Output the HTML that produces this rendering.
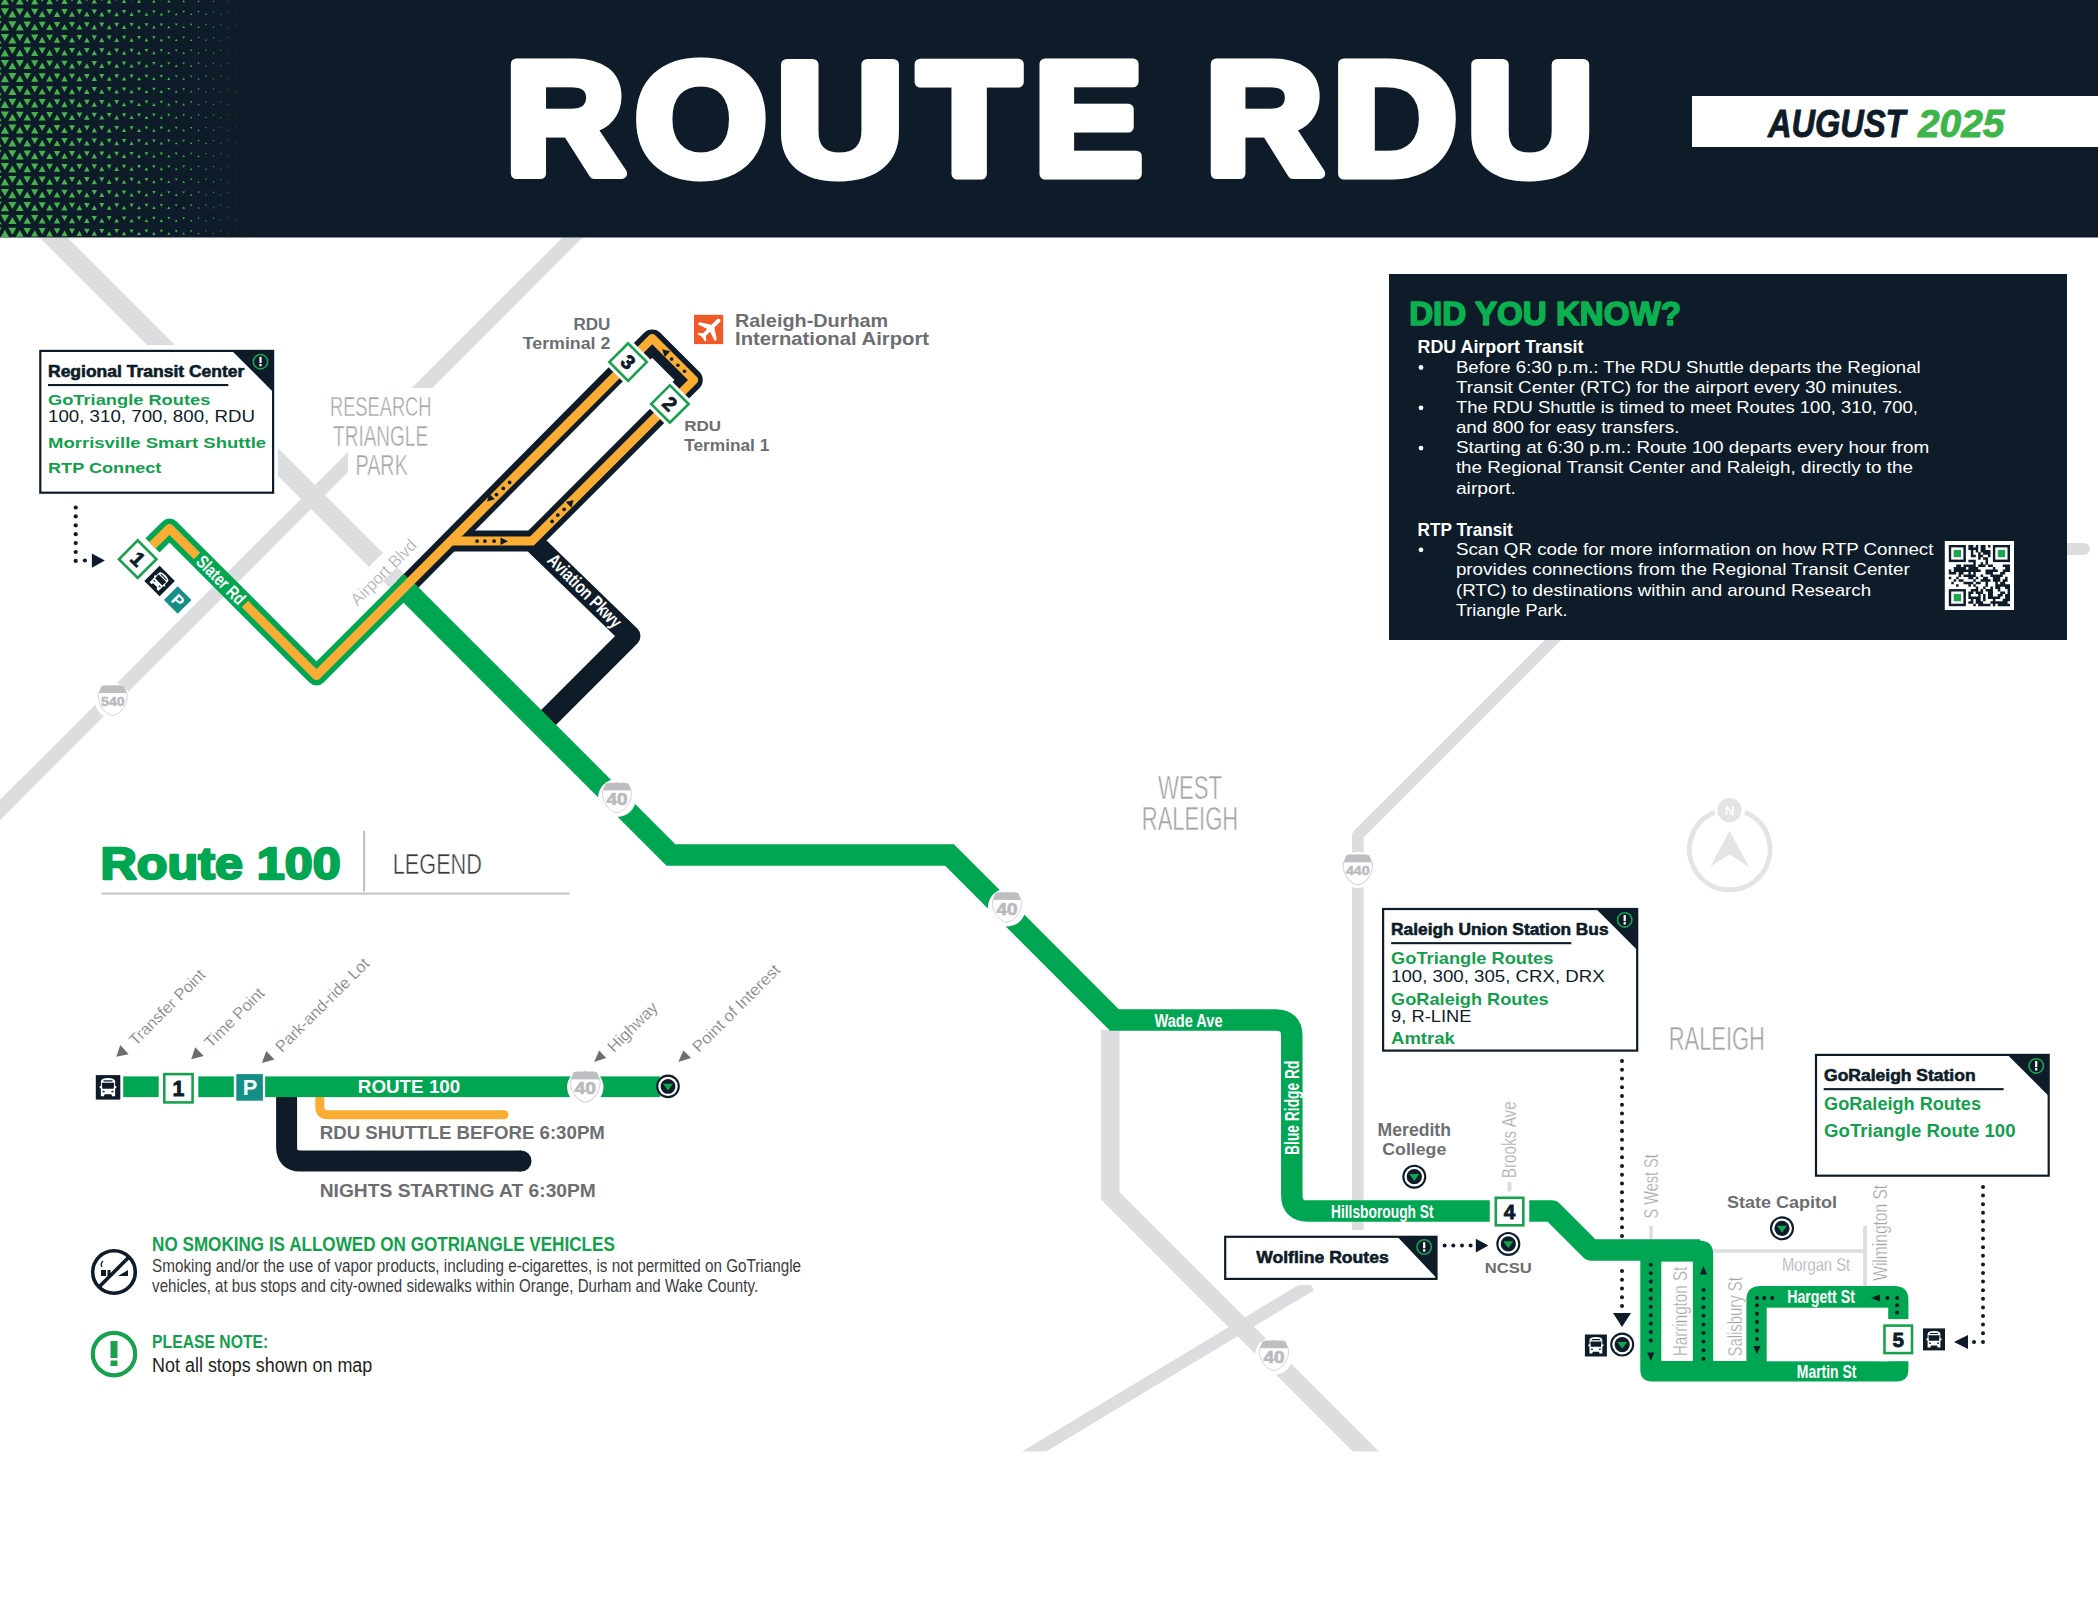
<!DOCTYPE html><html><head><meta charset="utf-8"><style>html,body{margin:0;padding:0;background:#fff;overflow:hidden}svg{display:block}</style></head><body>
<svg width="2098" height="1620" viewBox="0 0 2098 1620">
<defs><clipPath id="hdrclip"><rect x="0" y="0" width="2098" height="237.5"/></clipPath><clipPath id="mapclip"><rect x="0" y="237.5" width="2098" height="1214"/></clipPath></defs>
<rect width="2098" height="1620" fill="#fff"/>
<g clip-path="url(#mapclip)">
<path d="M33.0 217.0 L404.0 588.0" fill="none" stroke="#dcdddf" stroke-width="19.8" stroke-linecap="butt" stroke-linejoin="miter" />
<path d="M593.0 217.0 L-37.0 847.0" fill="none" stroke="#dcdddf" stroke-width="14.4" stroke-linecap="butt" stroke-linejoin="miter" />
<path d="M1600.0 593.0 L1357.8 835.2 L1357.8 1230.0" fill="none" stroke="#dcdddf" stroke-width="11.6" stroke-linecap="butt" stroke-linejoin="round" />
<path d="M2040.0 549.0 L2084.0 549.0" fill="none" stroke="#dcdddf" stroke-width="12" stroke-linecap="round" stroke-linejoin="miter" />
<path d="M1110.3 1030.0 L1110.3 1195.8 L1400.0 1485.5" fill="none" stroke="#dcdddf" stroke-width="18.4" stroke-linecap="butt" stroke-linejoin="miter" />
<path d="M1000.0 1472.0 L1310.8 1284.9" fill="none" stroke="#dcdddf" stroke-width="12.5" stroke-linecap="butt" stroke-linejoin="miter" />
<path d="M1712.0 1251.0 L1867.0 1251.0" fill="none" stroke="#dcdddf" stroke-width="3.6" stroke-linecap="butt" stroke-linejoin="miter" />
<path d="M1865.0 1226.0 L1865.0 1362.0" fill="none" stroke="#dcdddf" stroke-width="3.8" stroke-linecap="butt" stroke-linejoin="miter" />
<path d="M1651.0 1226.0 L1651.0 1250.0" fill="none" stroke="#dcdddf" stroke-width="3.5" stroke-linecap="butt" stroke-linejoin="miter" />
<path d="M1509.5 1182.0 L1509.5 1191.5" fill="none" stroke="#dcdddf" stroke-width="4" stroke-linecap="butt" stroke-linejoin="miter" />
</g>
<rect x="35.0" y="345.0" width="243.0" height="153.0" fill="#ffffff" />
<rect x="348.0" y="388.0" width="95.0" height="95.0" fill="#ffffff" />
<rect x="-44" y="-10" width="88" height="20" fill="#ffffff" transform="translate(382,568) rotate(-45)"/>
<rect x="1215.0" y="1230.0" width="230.0" height="55.0" fill="#ffffff" />
<path d="M404.0 588.0 L628.2 361.8" fill="none" stroke="#0e1c29" stroke-width="20" stroke-linecap="butt" stroke-linejoin="miter" />
<path d="M622.0 371.5 L652.2 341.2 L691.0 380.0 L664.5 406.5" fill="none" stroke="#0e1c29" stroke-width="23.5" stroke-linecap="butt" stroke-linejoin="round" />
<path d="M532.0 541.0 L669.9 403.1" fill="none" stroke="#0e1c29" stroke-width="20" stroke-linecap="butt" stroke-linejoin="miter" />
<path d="M451.0 541.0 L532.0 541.0" fill="none" stroke="#0e1c29" stroke-width="21" stroke-linecap="butt" stroke-linejoin="miter" />
<path d="M532.0 541.0 L630.0 636.0 L541.0 725.0" fill="none" stroke="#0e1c29" stroke-width="21" stroke-linecap="butt" stroke-linejoin="round" />
<path d="M152.5 545.3 L169.5 528.5 L316.5 675.5 L411.0 581.0" fill="none" stroke="#00a651" stroke-width="20" stroke-linecap="butt" stroke-linejoin="round" />
<path d="M404.0 588.0 L671.0 855.0 L949.5 855.0 L1114.5 1020.0 L1275.5 1020.0 Q1291.8 1020 1291.8 1036 L1291.8 1195 Q1291.8 1211 1307.8 1211 L1489.8 1211" fill="none" stroke="#00a651" stroke-width="21.5" stroke-linecap="butt" stroke-linejoin="miter" />
<path d="M1529.3 1211.0 L1552.0 1211.0 L1591.0 1250.0 L1700.0 1250.0" fill="none" stroke="#00a651" stroke-width="21.5" stroke-linecap="butt" stroke-linejoin="round" />
<path d="M152.5 545.3 L169.5 528.5 L197.0 556.0" fill="none" stroke="#f9ad34" stroke-width="9" stroke-linecap="butt" stroke-linejoin="round" />
<path d="M245.0 604.0 L316.5 675.5 L620.0 371.5" fill="none" stroke="#f9ad34" stroke-width="9" stroke-linecap="butt" stroke-linejoin="round" />
<path d="M451.0 541.0 L532.0 541.0 L663.0 410.0" fill="none" stroke="#f9ad34" stroke-width="9" stroke-linecap="butt" stroke-linejoin="miter" />
<path d="M632.0 358.5 L652.2 338.2 L694.0 380.0 L674.0 400.0" fill="none" stroke="#f9ad34" stroke-width="8.5" stroke-linecap="butt" stroke-linejoin="round" />
<path d="M1640.3 1240.5 L1699.2 1240.5 Q1713.2 1240.5 1713.2 1254.5 L1713.2 1361.2 L1640.3 1361.2 Z" fill="#00a651"/>
<rect x="1661.3" y="1261.6" width="31.6" height="99.8" fill="#ffffff" />
<path d="M1640.3 1361 L1908.4 1361 L1908.4 1369.5 Q1908.4 1381.5 1896.4 1381.5 L1652.3 1381.5 Q1640.3 1381.5 1640.3 1369.5 Z" fill="#00a651"/>
<path d="M1746.4 1361.2 L1746.4 1299.9 Q1746.4 1285.9 1760.4 1285.9 L1894.4 1285.9 Q1908.4 1285.9 1908.4 1299.9 L1908.4 1361.2 Z" fill="#00a651"/>
<rect x="1766.7" y="1307.7" width="121.5" height="53.6" fill="#ffffff" />
<rect x="1880.3" y="1319.1" width="36.0" height="42.1" fill="#ffffff" />
<g transform="translate(1898.3,1339.4) rotate(0)">
<rect x="-15.0" y="-15.0" width="30.0" height="30.0" fill="#ffffff" />
<rect x="-13.8" y="-13.8" width="27.5" height="27.5" fill="#fff" stroke="#1aa14f" stroke-width="2.6"/>
<text x="0" y="7.12" font-family="Liberation Sans" font-weight="bold" font-size="20.71" fill="#0e1c29" text-anchor="middle" stroke="#0e1c29" stroke-width="0.8">5</text>
</g>
<circle cx="1650.8" cy="1264.8" r="2.0" fill="#0e1c29" />
<circle cx="1650.8" cy="1273.2" r="2.0" fill="#0e1c29" />
<circle cx="1650.8" cy="1281.6" r="2.0" fill="#0e1c29" />
<circle cx="1650.8" cy="1290.0" r="2.0" fill="#0e1c29" />
<circle cx="1650.8" cy="1298.4" r="2.0" fill="#0e1c29" />
<circle cx="1650.8" cy="1306.8" r="2.0" fill="#0e1c29" />
<circle cx="1650.8" cy="1315.2" r="2.0" fill="#0e1c29" />
<circle cx="1650.8" cy="1323.6" r="2.0" fill="#0e1c29" />
<circle cx="1650.8" cy="1332.0" r="2.0" fill="#0e1c29" />
<circle cx="1650.8" cy="1340.4" r="2.0" fill="#0e1c29" />
<polygon points="1650.8,1361.0 1647.2,1352.5 1654.4,1352.5" fill="#0e1c29" />
<circle cx="1703.5" cy="1358.8" r="2.0" fill="#0e1c29" />
<circle cx="1703.5" cy="1350.2" r="2.0" fill="#0e1c29" />
<circle cx="1703.5" cy="1341.6" r="2.0" fill="#0e1c29" />
<circle cx="1703.5" cy="1333.0" r="2.0" fill="#0e1c29" />
<circle cx="1703.5" cy="1324.4" r="2.0" fill="#0e1c29" />
<circle cx="1703.5" cy="1315.8" r="2.0" fill="#0e1c29" />
<circle cx="1703.5" cy="1307.2" r="2.0" fill="#0e1c29" />
<circle cx="1703.5" cy="1298.6" r="2.0" fill="#0e1c29" />
<circle cx="1703.5" cy="1290.0" r="2.0" fill="#0e1c29" />
<polygon points="1703.5,1266.0 1707.1,1274.5 1699.9,1274.5" fill="#0e1c29" />
<circle cx="1772.3" cy="1298.0" r="2.0" fill="#0e1c29" />
<circle cx="1764.2" cy="1298.0" r="2.0" fill="#0e1c29" />
<circle cx="1757.0" cy="1298.0" r="2.0" fill="#0e1c29" />
<circle cx="1757.0" cy="1305.3" r="2.0" fill="#0e1c29" />
<circle cx="1757.0" cy="1313.7" r="2.0" fill="#0e1c29" />
<circle cx="1757.0" cy="1322.1" r="2.0" fill="#0e1c29" />
<circle cx="1757.0" cy="1330.5" r="2.0" fill="#0e1c29" />
<circle cx="1757.0" cy="1338.9" r="2.0" fill="#0e1c29" />
<polygon points="1757.0,1354.0 1753.4,1346.0 1760.6,1346.0" fill="#0e1c29" />
<polygon points="1871.0,1298.0 1880.0,1294.4 1880.0,1301.6" fill="#0e1c29" />
<circle cx="1887.4" cy="1298.0" r="2.0" fill="#0e1c29" />
<circle cx="1897.1" cy="1298.0" r="2.0" fill="#0e1c29" />
<circle cx="1897.1" cy="1305.3" r="2.0" fill="#0e1c29" />
<circle cx="1897.1" cy="1312.6" r="2.0" fill="#0e1c29" />
<circle cx="496.5" cy="494.6" r="1.9" fill="#0e1c29" />
<circle cx="503.3" cy="488.4" r="1.9" fill="#0e1c29" />
<circle cx="509.6" cy="482.4" r="1.9" fill="#0e1c29" />
<polygon points="487.0,501.5 489.2,493.7 494.8,499.3" fill="#0e1c29" />
<circle cx="552.1" cy="521.4" r="1.9" fill="#0e1c29" />
<circle cx="557.8" cy="515.1" r="1.9" fill="#0e1c29" />
<circle cx="564.1" cy="509.3" r="1.9" fill="#0e1c29" />
<polygon points="573.6,499.9 571.4,507.7 565.8,502.1" fill="#0e1c29" />
<circle cx="477.1" cy="541.1" r="1.9" fill="#0e1c29" />
<circle cx="484.9" cy="541.1" r="1.9" fill="#0e1c29" />
<circle cx="494.1" cy="541.1" r="1.9" fill="#0e1c29" />
<polygon points="508.0,541.2 500.5,545.0 500.5,537.4" fill="#0e1c29" />
<circle cx="671.6" cy="359.1" r="1.8" fill="#0e1c29" />
<circle cx="677.9" cy="365.2" r="1.8" fill="#0e1c29" />
<circle cx="684.5" cy="371.2" r="1.8" fill="#0e1c29" />
<polygon points="662.2,349.2 670.2,351.3 664.8,357.1" fill="#0e1c29" />
<g transform="translate(137.7,559.1) rotate(45)">
<rect x="-17.5" y="-17.5" width="35.0" height="35.0" fill="#ffffff" />
<rect x="-13.2" y="-13.2" width="26.5" height="26.5" fill="#fff" stroke="#1aa14f" stroke-width="2.6"/>
<text x="0" y="6.89" font-family="Liberation Sans" font-weight="bold" font-size="20.02" fill="#0e1c29" text-anchor="middle" stroke="#0e1c29" stroke-width="0.8">1</text>
</g>
<g transform="translate(628.1,362.0) rotate(45)">
<rect x="-17.5" y="-17.5" width="35.0" height="35.0" fill="#ffffff" />
<rect x="-13.2" y="-13.2" width="26.5" height="26.5" fill="#fff" stroke="#1aa14f" stroke-width="2.6"/>
<text x="0" y="6.89" font-family="Liberation Sans" font-weight="bold" font-size="20.02" fill="#0e1c29" text-anchor="middle" stroke="#0e1c29" stroke-width="0.8">3</text>
</g>
<g transform="translate(669.9,403.9) rotate(45)">
<rect x="-17.5" y="-17.5" width="35.0" height="35.0" fill="#ffffff" />
<rect x="-13.2" y="-13.2" width="26.5" height="26.5" fill="#fff" stroke="#1aa14f" stroke-width="2.6"/>
<text x="0" y="6.89" font-family="Liberation Sans" font-weight="bold" font-size="20.02" fill="#0e1c29" text-anchor="middle" stroke="#0e1c29" stroke-width="0.8">2</text>
</g>
<g transform="translate(159.6,581.0) rotate(45)">
<rect x="-10.8" y="-10.8" width="21.6" height="21.6" fill="#0e1c29" />
<g transform="scale(0.982)" fill="#fff">
<path d="M-6.4 -5.5 Q-6.4 -8.2 0 -8.4 Q6.4 -8.2 6.4 -5.5 L6.4 8.1 L3.6 8.1 L3.1 6.2 L-3.1 6.2 L-3.6 8.1 L-6.4 8.1 Z"/>
<rect x="-7.6" y="-1.2" width="15.2" height="2.2" rx="1"/>
<path d="M-5.6 -4.1 L5.6 -4.1 L5.1 1.3 L-5.1 1.3 Z" fill="#0e1c29"/>
<rect x="-4.2" y="-6.4" width="8.4" height="1.1" rx="0.5" fill="#0e1c29"/>
<rect x="-5" y="3.2" width="2" height="1.2" fill="#0e1c29"/><rect x="3" y="3.2" width="2" height="1.2" fill="#0e1c29"/>
</g></g>
<g transform="translate(177.7,600.1) rotate(45)">
<rect x="-9.8" y="-9.8" width="19.5" height="19.5" fill="#148f88" />
<text x="0.5" y="5.8" font-family="Liberation Sans" font-weight="bold" font-size="16.0" fill="#fff" text-anchor="middle">P</text>
</g>
<circle cx="75.7" cy="507.5" r="2.1" fill="#0e1c29" />
<circle cx="75.7" cy="516.4" r="2.1" fill="#0e1c29" />
<circle cx="75.7" cy="525.3" r="2.1" fill="#0e1c29" />
<circle cx="75.7" cy="534.2" r="2.1" fill="#0e1c29" />
<circle cx="75.7" cy="543.1" r="2.1" fill="#0e1c29" />
<circle cx="75.7" cy="552.0" r="2.1" fill="#0e1c29" />
<circle cx="75.7" cy="560.9" r="2.1" fill="#0e1c29" />
<circle cx="84.9" cy="560.5" r="2.1" fill="#0e1c29" />
<polygon points="91.9,553.4 91.9,567.7 104.8,560.5" fill="#0e1c29" />
<circle cx="112.8" cy="700.6" r="17.8" fill="#ffffff" />
<g transform="translate(112.8,700.6) scale(1.000)">
<clipPath id="shc1"><path d="M-11.2 -14.2 Q-8 -15.6 -3 -14.8 Q0 -15.8 3 -14.8 Q8 -15.6 11.2 -14.2 L14.4 -6.5 C15.2 3 9.5 12.5 0 15 C-9.5 12.5 -15.2 3 -14.4 -6.5 Z"/></clipPath>
<path d="M-11.2 -14.2 Q-8 -15.6 -3 -14.8 Q0 -15.8 3 -14.8 Q8 -15.6 11.2 -14.2 L14.4 -6.5 C15.2 3 9.5 12.5 0 15 C-9.5 12.5 -15.2 3 -14.4 -6.5 Z" fill="#ffffff" stroke="#d4d5d7" stroke-width="1"/>
<rect x="-16" y="-17" width="32" height="9.4" fill="#bcbec1" clip-path="url(#shc1)"/>
<text x="0" y="5.3" font-family="Liberation Sans" font-weight="bold" font-size="13.1" fill="#b9bbbe" text-anchor="middle" textLength="23.5" lengthAdjust="spacingAndGlyphs" stroke="#b9bbbe" stroke-width="0.5">540</text>
</g>
<circle cx="617.0" cy="798.0" r="19.0" fill="#ffffff" />
<g transform="translate(617.0,798.0) scale(1.000)">
<clipPath id="shc2"><path d="M-11.2 -14.2 Q-8 -15.6 -3 -14.8 Q0 -15.8 3 -14.8 Q8 -15.6 11.2 -14.2 L14.4 -6.5 C15.2 3 9.5 12.5 0 15 C-9.5 12.5 -15.2 3 -14.4 -6.5 Z"/></clipPath>
<path d="M-11.2 -14.2 Q-8 -15.6 -3 -14.8 Q0 -15.8 3 -14.8 Q8 -15.6 11.2 -14.2 L14.4 -6.5 C15.2 3 9.5 12.5 0 15 C-9.5 12.5 -15.2 3 -14.4 -6.5 Z" fill="#ffffff" stroke="#d4d5d7" stroke-width="1"/>
<rect x="-16" y="-17" width="32" height="9.4" fill="#bcbec1" clip-path="url(#shc2)"/>
<text x="0" y="7.1" font-family="Liberation Sans" font-weight="bold" font-size="16.9" fill="#b9bbbe" text-anchor="middle" textLength="21" lengthAdjust="spacingAndGlyphs" stroke="#b9bbbe" stroke-width="0.7">40</text>
</g>
<circle cx="1006.9" cy="907.5" r="19.0" fill="#ffffff" />
<g transform="translate(1006.9,907.5) scale(1.000)">
<clipPath id="shc3"><path d="M-11.2 -14.2 Q-8 -15.6 -3 -14.8 Q0 -15.8 3 -14.8 Q8 -15.6 11.2 -14.2 L14.4 -6.5 C15.2 3 9.5 12.5 0 15 C-9.5 12.5 -15.2 3 -14.4 -6.5 Z"/></clipPath>
<path d="M-11.2 -14.2 Q-8 -15.6 -3 -14.8 Q0 -15.8 3 -14.8 Q8 -15.6 11.2 -14.2 L14.4 -6.5 C15.2 3 9.5 12.5 0 15 C-9.5 12.5 -15.2 3 -14.4 -6.5 Z" fill="#ffffff" stroke="#d4d5d7" stroke-width="1"/>
<rect x="-16" y="-17" width="32" height="9.4" fill="#bcbec1" clip-path="url(#shc3)"/>
<text x="0" y="7.1" font-family="Liberation Sans" font-weight="bold" font-size="16.9" fill="#b9bbbe" text-anchor="middle" textLength="21" lengthAdjust="spacingAndGlyphs" stroke="#b9bbbe" stroke-width="0.7">40</text>
</g>
<circle cx="1357.8" cy="870.0" r="18.0" fill="#ffffff" />
<g transform="translate(1357.8,870.0) scale(1.007)">
<clipPath id="shc4"><path d="M-11.2 -14.2 Q-8 -15.6 -3 -14.8 Q0 -15.8 3 -14.8 Q8 -15.6 11.2 -14.2 L14.4 -6.5 C15.2 3 9.5 12.5 0 15 C-9.5 12.5 -15.2 3 -14.4 -6.5 Z"/></clipPath>
<path d="M-11.2 -14.2 Q-8 -15.6 -3 -14.8 Q0 -15.8 3 -14.8 Q8 -15.6 11.2 -14.2 L14.4 -6.5 C15.2 3 9.5 12.5 0 15 C-9.5 12.5 -15.2 3 -14.4 -6.5 Z" fill="#ffffff" stroke="#d4d5d7" stroke-width="1"/>
<rect x="-16" y="-17" width="32" height="9.4" fill="#bcbec1" clip-path="url(#shc4)"/>
<text x="0" y="5.3" font-family="Liberation Sans" font-weight="bold" font-size="13.1" fill="#b9bbbe" text-anchor="middle" textLength="23.5" lengthAdjust="spacingAndGlyphs" stroke="#b9bbbe" stroke-width="0.5">440</text>
</g>
<circle cx="1274.0" cy="1355.8" r="19.0" fill="#ffffff" />
<g transform="translate(1274.0,1355.8) scale(1.000)">
<clipPath id="shc5"><path d="M-11.2 -14.2 Q-8 -15.6 -3 -14.8 Q0 -15.8 3 -14.8 Q8 -15.6 11.2 -14.2 L14.4 -6.5 C15.2 3 9.5 12.5 0 15 C-9.5 12.5 -15.2 3 -14.4 -6.5 Z"/></clipPath>
<path d="M-11.2 -14.2 Q-8 -15.6 -3 -14.8 Q0 -15.8 3 -14.8 Q8 -15.6 11.2 -14.2 L14.4 -6.5 C15.2 3 9.5 12.5 0 15 C-9.5 12.5 -15.2 3 -14.4 -6.5 Z" fill="#ffffff" stroke="#d4d5d7" stroke-width="1"/>
<rect x="-16" y="-17" width="32" height="9.4" fill="#bcbec1" clip-path="url(#shc5)"/>
<text x="0" y="7.1" font-family="Liberation Sans" font-weight="bold" font-size="16.9" fill="#b9bbbe" text-anchor="middle" textLength="21" lengthAdjust="spacingAndGlyphs" stroke="#b9bbbe" stroke-width="0.7">40</text>
</g>
<g transform="translate(1509.6,1211.6) rotate(0)">
<rect x="-18.0" y="-18.0" width="36.0" height="36.0" fill="#ffffff" />
<rect x="-13.8" y="-13.8" width="27.5" height="27.5" fill="#fff" stroke="#1aa14f" stroke-width="2.6"/>
<text x="0" y="7.12" font-family="Liberation Sans" font-weight="bold" font-size="20.71" fill="#0e1c29" text-anchor="middle" stroke="#0e1c29" stroke-width="0.8">4</text>
</g>
<circle cx="1414.3" cy="1176.7" r="12.0" fill="#0e1c29" />
<circle cx="1414.3" cy="1176.7" r="9.9" fill="#ffffff" />
<circle cx="1414.3" cy="1176.7" r="7.6" fill="#0e1c29" />
<polygon points="1409.3,1174.1 1419.3,1174.1 1414.3,1180.9" fill="#10a550" />
<circle cx="1508.3" cy="1243.9" r="12.0" fill="#0e1c29" />
<circle cx="1508.3" cy="1243.9" r="9.9" fill="#ffffff" />
<circle cx="1508.3" cy="1243.9" r="7.6" fill="#0e1c29" />
<polygon points="1503.3,1241.3 1513.3,1241.3 1508.3,1248.1" fill="#10a550" />
<circle cx="1782.0" cy="1228.3" r="12.0" fill="#0e1c29" />
<circle cx="1782.0" cy="1228.3" r="9.9" fill="#ffffff" />
<circle cx="1782.0" cy="1228.3" r="7.6" fill="#0e1c29" />
<polygon points="1777.0,1225.7 1787.0,1225.7 1782.0,1232.5" fill="#10a550" />
<circle cx="1622.2" cy="1344.6" r="12.0" fill="#0e1c29" />
<circle cx="1622.2" cy="1344.6" r="9.9" fill="#ffffff" />
<circle cx="1622.2" cy="1344.6" r="7.6" fill="#0e1c29" />
<polygon points="1617.2,1342.0 1627.2,1342.0 1622.2,1348.8" fill="#10a550" />
<circle cx="1444.6" cy="1245.4" r="2.0" fill="#0e1c29" />
<circle cx="1453.3" cy="1245.4" r="2.0" fill="#0e1c29" />
<circle cx="1462.0" cy="1245.4" r="2.0" fill="#0e1c29" />
<circle cx="1470.6" cy="1245.4" r="2.0" fill="#0e1c29" />
<polygon points="1475.8,1238.8 1475.8,1252.5 1488.4,1245.6" fill="#0e1c29" />
<circle cx="1622.0" cy="1061.0" r="2.0" fill="#0e1c29" />
<circle cx="1622.0" cy="1069.8" r="2.0" fill="#0e1c29" />
<circle cx="1622.0" cy="1078.5" r="2.0" fill="#0e1c29" />
<circle cx="1622.0" cy="1087.2" r="2.0" fill="#0e1c29" />
<circle cx="1622.0" cy="1096.0" r="2.0" fill="#0e1c29" />
<circle cx="1622.0" cy="1104.8" r="2.0" fill="#0e1c29" />
<circle cx="1622.0" cy="1113.5" r="2.0" fill="#0e1c29" />
<circle cx="1622.0" cy="1122.2" r="2.0" fill="#0e1c29" />
<circle cx="1622.0" cy="1131.0" r="2.0" fill="#0e1c29" />
<circle cx="1622.0" cy="1139.8" r="2.0" fill="#0e1c29" />
<circle cx="1622.0" cy="1148.5" r="2.0" fill="#0e1c29" />
<circle cx="1622.0" cy="1157.2" r="2.0" fill="#0e1c29" />
<circle cx="1622.0" cy="1166.0" r="2.0" fill="#0e1c29" />
<circle cx="1622.0" cy="1174.8" r="2.0" fill="#0e1c29" />
<circle cx="1622.0" cy="1183.5" r="2.0" fill="#0e1c29" />
<circle cx="1622.0" cy="1192.2" r="2.0" fill="#0e1c29" />
<circle cx="1622.0" cy="1201.0" r="2.0" fill="#0e1c29" />
<circle cx="1622.0" cy="1209.8" r="2.0" fill="#0e1c29" />
<circle cx="1622.0" cy="1218.5" r="2.0" fill="#0e1c29" />
<circle cx="1622.0" cy="1227.2" r="2.0" fill="#0e1c29" />
<circle cx="1622.0" cy="1236.0" r="2.0" fill="#0e1c29" />
<circle cx="1622.0" cy="1271.0" r="2.0" fill="#0e1c29" />
<circle cx="1622.0" cy="1279.8" r="2.0" fill="#0e1c29" />
<circle cx="1622.0" cy="1288.5" r="2.0" fill="#0e1c29" />
<circle cx="1622.0" cy="1297.2" r="2.0" fill="#0e1c29" />
<circle cx="1622.0" cy="1306.0" r="2.0" fill="#0e1c29" />
<polygon points="1613.0,1313.0 1631.0,1313.0 1622.0,1327.0" fill="#0e1c29" />
<g transform="translate(1595.9,1345.5) rotate(0)">
<rect x="-11.0" y="-11.0" width="22.0" height="22.0" fill="#0e1c29" />
<g transform="scale(1.000)" fill="#fff">
<path d="M-6.4 -5.5 Q-6.4 -8.2 0 -8.4 Q6.4 -8.2 6.4 -5.5 L6.4 8.1 L3.6 8.1 L3.1 6.2 L-3.1 6.2 L-3.6 8.1 L-6.4 8.1 Z"/>
<rect x="-7.6" y="-1.2" width="15.2" height="2.2" rx="1"/>
<path d="M-5.6 -4.1 L5.6 -4.1 L5.1 1.3 L-5.1 1.3 Z" fill="#0e1c29"/>
<rect x="-4.2" y="-6.4" width="8.4" height="1.1" rx="0.5" fill="#0e1c29"/>
<rect x="-5" y="3.2" width="2" height="1.2" fill="#0e1c29"/><rect x="3" y="3.2" width="2" height="1.2" fill="#0e1c29"/>
</g></g>
<circle cx="1983.0" cy="1187.0" r="2.0" fill="#0e1c29" />
<circle cx="1983.0" cy="1195.6" r="2.0" fill="#0e1c29" />
<circle cx="1983.0" cy="1204.2" r="2.0" fill="#0e1c29" />
<circle cx="1983.0" cy="1212.8" r="2.0" fill="#0e1c29" />
<circle cx="1983.0" cy="1221.4" r="2.0" fill="#0e1c29" />
<circle cx="1983.0" cy="1230.0" r="2.0" fill="#0e1c29" />
<circle cx="1983.0" cy="1238.6" r="2.0" fill="#0e1c29" />
<circle cx="1983.0" cy="1247.2" r="2.0" fill="#0e1c29" />
<circle cx="1983.0" cy="1255.8" r="2.0" fill="#0e1c29" />
<circle cx="1983.0" cy="1264.4" r="2.0" fill="#0e1c29" />
<circle cx="1983.0" cy="1273.0" r="2.0" fill="#0e1c29" />
<circle cx="1983.0" cy="1281.6" r="2.0" fill="#0e1c29" />
<circle cx="1983.0" cy="1290.2" r="2.0" fill="#0e1c29" />
<circle cx="1983.0" cy="1298.8" r="2.0" fill="#0e1c29" />
<circle cx="1983.0" cy="1307.4" r="2.0" fill="#0e1c29" />
<circle cx="1983.0" cy="1316.0" r="2.0" fill="#0e1c29" />
<circle cx="1983.0" cy="1324.6" r="2.0" fill="#0e1c29" />
<circle cx="1983.0" cy="1333.2" r="2.0" fill="#0e1c29" />
<circle cx="1974.0" cy="1342.0" r="2.0" fill="#0e1c29" />
<circle cx="1983.0" cy="1342.0" r="2.0" fill="#0e1c29" />
<polygon points="1968.0,1335.0 1968.0,1349.0 1954.0,1342.0" fill="#0e1c29" />
<g transform="translate(1934.0,1339.4) rotate(0)">
<rect x="-11.0" y="-11.0" width="22.0" height="22.0" fill="#0e1c29" />
<g transform="scale(1.000)" fill="#fff">
<path d="M-6.4 -5.5 Q-6.4 -8.2 0 -8.4 Q6.4 -8.2 6.4 -5.5 L6.4 8.1 L3.6 8.1 L3.1 6.2 L-3.1 6.2 L-3.6 8.1 L-6.4 8.1 Z"/>
<rect x="-7.6" y="-1.2" width="15.2" height="2.2" rx="1"/>
<path d="M-5.6 -4.1 L5.6 -4.1 L5.1 1.3 L-5.1 1.3 Z" fill="#0e1c29"/>
<rect x="-4.2" y="-6.4" width="8.4" height="1.1" rx="0.5" fill="#0e1c29"/>
<rect x="-5" y="3.2" width="2" height="1.2" fill="#0e1c29"/><rect x="3" y="3.2" width="2" height="1.2" fill="#0e1c29"/>
</g></g>
<g fill="none" stroke="#e3e4e5" stroke-width="5"><path d="M1714.5 812.2 A40.3 40.3 0 1 0 1745 812.2"/></g>
<circle cx="1729.5" cy="810.2" r="12.1" fill="#e3e4e5" />
<text x="1729.5" y="815.3" font-family="Liberation Sans" font-size="13.37" font-weight="bold" font-style="normal" fill="#ffffff" text-anchor="middle" >N</text>
<polygon points="1729.5,831.0 1749.4,867.3 1729.5,854.3 1710.5,866.4" fill="#e3e4e5" />
<rect x="694.0" y="314.8" width="29.2" height="29.3" fill="#ef5a28" />
<g transform="translate(710.6,328.5) rotate(45) scale(1.1)"><path d="M0 -12 Q1.8 -12 1.8 -9 L1.8 -3 L11 3 L11 5.5 L1.8 2.5 L1.8 8 L5 10.5 L5 12 L0 11 L-5 12 L-5 10.5 L-1.8 8 L-1.8 2.5 L-11 5.5 L-11 3 L-1.8 -3 L-1.8 -9 Q-1.8 -12 0 -12 Z" fill="#fff"/></g>
<circle cx="114.0" cy="1272.0" r="21.3" fill="none" stroke="#0e1c29" stroke-width="3.6" />
<path d="M99 1287 L129 1257" stroke="#0e1c29" stroke-width="3.6"/>
<rect x="101.0" y="1270.0" width="5.0" height="6.0" fill="#0e1c29" />
<rect x="107.5" y="1270.0" width="3.0" height="6.0" fill="#0e1c29" />
<path d="M118 1276 L128 1270 L128 1276 Z" fill="#0e1c29"/>
<path d="M102 1267 q-2 -3 1 -6" stroke="#0e1c29" stroke-width="1.3" fill="none"/>
<circle cx="114.0" cy="1354.1" r="21.2" fill="none" stroke="#1aa14f" stroke-width="4.2" />
<rect x="110.5" y="1341.0" width="7.0" height="17.0" fill="#1aa14f" />
<rect x="110.5" y="1360.5" width="7.0" height="5.5" fill="#1aa14f" />
<rect x="40.3" y="350.9" width="232.8" height="141.8" fill="#fff" stroke="#0e1c29" stroke-width="2.2"/>
<polygon points="232.1,350.9 273.1,350.9 273.1,391.9" fill="#0e1c29" />
<circle cx="260.5" cy="361.7" r="7.2" fill="none" stroke="#1aa14f" stroke-width="1.6" />
<rect x="259.4" y="356.9" width="2.2" height="6.0" fill="#ffffff" />
<rect x="259.4" y="363.9" width="2.2" height="2.4" fill="#ffffff" />
<text x="48.0" y="376.6" font-family="Liberation Sans" font-size="16.28" font-weight="bold" font-style="normal" fill="#0e1c29" text-anchor="start" textLength="196.4" lengthAdjust="spacingAndGlyphs" stroke="#0e1c29" stroke-width="0.6" stroke-linejoin="round" >Regional Transit Center</text>
<rect x="48.0" y="384.0" width="180.3" height="2.1" fill="#0e1c29" />
<text x="48.0" y="405.1" font-family="Liberation Sans" font-size="15.41" font-weight="bold" font-style="normal" fill="#13a04d" text-anchor="start" textLength="162.3" lengthAdjust="spacingAndGlyphs" >GoTriangle Routes</text>
<text x="48.0" y="422.4" font-family="Liberation Sans" font-size="16.13" font-weight="normal" font-style="normal" fill="#0e1c29" text-anchor="start" textLength="207.0" lengthAdjust="spacingAndGlyphs" >100, 310, 700, 800, RDU</text>
<text x="48.0" y="448.4" font-family="Liberation Sans" font-size="15.26" font-weight="bold" font-style="normal" fill="#13a04d" text-anchor="start" textLength="218.1" lengthAdjust="spacingAndGlyphs" >Morrisville Smart Shuttle</text>
<text x="48.0" y="473.2" font-family="Liberation Sans" font-size="15.26" font-weight="bold" font-style="normal" fill="#13a04d" text-anchor="start" textLength="113.4" lengthAdjust="spacingAndGlyphs" >RTP Connect</text>
<rect x="1383.1" y="909.0" width="254.1" height="141.6" fill="#fff" stroke="#0e1c29" stroke-width="2.2"/>
<polygon points="1596.2,909.0 1637.2,909.0 1637.2,950.0" fill="#0e1c29" />
<circle cx="1624.7" cy="919.9" r="7.2" fill="none" stroke="#1aa14f" stroke-width="1.6" />
<rect x="1623.6" y="915.1" width="2.2" height="6.0" fill="#ffffff" />
<rect x="1623.6" y="922.1" width="2.2" height="2.4" fill="#ffffff" />
<text x="1391.1" y="935.0" font-family="Liberation Sans" font-size="17.15" font-weight="bold" font-style="normal" fill="#0e1c29" text-anchor="start" textLength="217.5" lengthAdjust="spacingAndGlyphs" stroke="#0e1c29" stroke-width="0.6" stroke-linejoin="round" >Raleigh Union Station Bus</text>
<rect x="1391.1" y="942.1" width="180.2" height="2.1" fill="#0e1c29" />
<text x="1391.1" y="964.4" font-family="Liberation Sans" font-size="16.86" font-weight="bold" font-style="normal" fill="#13a04d" text-anchor="start" textLength="162.2" lengthAdjust="spacingAndGlyphs" >GoTriangle Routes</text>
<text x="1391.1" y="981.7" font-family="Liberation Sans" font-size="16.86" font-weight="normal" font-style="normal" fill="#0e1c29" text-anchor="start" textLength="213.6" lengthAdjust="spacingAndGlyphs" >100, 300, 305, CRX, DRX</text>
<text x="1391.1" y="1004.9" font-family="Liberation Sans" font-size="16.86" font-weight="bold" font-style="normal" fill="#13a04d" text-anchor="start" textLength="157.6" lengthAdjust="spacingAndGlyphs" >GoRaleigh Routes</text>
<text x="1391.1" y="1021.6" font-family="Liberation Sans" font-size="16.86" font-weight="normal" font-style="normal" fill="#0e1c29" text-anchor="start" textLength="80.4" lengthAdjust="spacingAndGlyphs" >9, R-LINE</text>
<text x="1391.1" y="1043.5" font-family="Liberation Sans" font-size="16.86" font-weight="bold" font-style="normal" fill="#13a04d" text-anchor="start" textLength="63.7" lengthAdjust="spacingAndGlyphs" >Amtrak</text>
<rect x="1816.0" y="1054.9" width="232.7" height="120.8" fill="#fff" stroke="#0e1c29" stroke-width="2.2"/>
<polygon points="2007.7,1054.9 2048.7,1054.9 2048.7,1095.9" fill="#0e1c29" />
<circle cx="2036.2" cy="1065.9" r="7.2" fill="none" stroke="#1aa14f" stroke-width="1.6" />
<rect x="2035.1" y="1061.1" width="2.2" height="6.0" fill="#ffffff" />
<rect x="2035.1" y="1068.1" width="2.2" height="2.4" fill="#ffffff" />
<text x="1824.1" y="1080.7" font-family="Liberation Sans" font-size="16.42" font-weight="bold" font-style="normal" fill="#0e1c29" text-anchor="start" textLength="151.5" lengthAdjust="spacingAndGlyphs" stroke="#0e1c29" stroke-width="0.6" stroke-linejoin="round" >GoRaleigh Station</text>
<rect x="1823.7" y="1088.1" width="179.9" height="2.1" fill="#0e1c29" />
<text x="1824.1" y="1110.0" font-family="Liberation Sans" font-size="17.44" font-weight="bold" font-style="normal" fill="#13a04d" text-anchor="start" textLength="156.9" lengthAdjust="spacingAndGlyphs" >GoRaleigh Routes</text>
<text x="1824.1" y="1136.8" font-family="Liberation Sans" font-size="17.44" font-weight="bold" font-style="normal" fill="#13a04d" text-anchor="start" textLength="191.5" lengthAdjust="spacingAndGlyphs" >GoTriangle Route 100</text>
<rect x="1225.2" y="1236.8" width="211.3" height="42.1" fill="#fff" stroke="#0e1c29" stroke-width="2.2"/>
<polygon points="1397.4,1236.8 1436.5,1236.8 1436.5,1278.0" fill="#0e1c29" />
<circle cx="1424.2" cy="1247.0" r="7.2" fill="none" stroke="#1aa14f" stroke-width="1.6" />
<rect x="1423.1" y="1242.2" width="2.2" height="6.0" fill="#ffffff" />
<rect x="1423.1" y="1249.2" width="2.2" height="2.4" fill="#ffffff" />
<text x="1256.2" y="1262.7" font-family="Liberation Sans" font-size="17.01" font-weight="bold" font-style="normal" fill="#0e1c29" text-anchor="start" textLength="132.6" lengthAdjust="spacingAndGlyphs" stroke="#0e1c29" stroke-width="0.6" stroke-linejoin="round" >Wolfline Routes</text>
<text x="330.0" y="415.6" font-family="Liberation Sans" font-size="28.05" font-weight="normal" font-style="normal" fill="#a2a4a8" text-anchor="start" textLength="101.5" lengthAdjust="spacingAndGlyphs" stroke="#ffffff" stroke-width="0.5" stroke-linejoin="round" >RESEARCH</text>
<text x="333.1" y="445.9" font-family="Liberation Sans" font-size="28.63" font-weight="normal" font-style="normal" fill="#a2a4a8" text-anchor="start" textLength="95.0" lengthAdjust="spacingAndGlyphs" stroke="#ffffff" stroke-width="0.5" stroke-linejoin="round" >TRIANGLE</text>
<text x="355.5" y="474.7" font-family="Liberation Sans" font-size="28.63" font-weight="normal" font-style="normal" fill="#a2a4a8" text-anchor="start" textLength="52.3" lengthAdjust="spacingAndGlyphs" stroke="#ffffff" stroke-width="0.5" stroke-linejoin="round" >PARK</text>
<text x="1158.1" y="798.6" font-family="Liberation Sans" font-size="32.70" font-weight="normal" font-style="normal" fill="#a2a4a8" text-anchor="start" textLength="63.9" lengthAdjust="spacingAndGlyphs" stroke="#ffffff" stroke-width="0.5" stroke-linejoin="round" >WEST</text>
<text x="1141.8" y="830.1" font-family="Liberation Sans" font-size="33.58" font-weight="normal" font-style="normal" fill="#a2a4a8" text-anchor="start" textLength="96.3" lengthAdjust="spacingAndGlyphs" stroke="#ffffff" stroke-width="0.5" stroke-linejoin="round" >RALEIGH</text>
<text x="1668.7" y="1049.6" font-family="Liberation Sans" font-size="32.70" font-weight="normal" font-style="normal" fill="#a2a4a8" text-anchor="start" textLength="96.2" lengthAdjust="spacingAndGlyphs" stroke="#ffffff" stroke-width="0.5" stroke-linejoin="round" >RALEIGH</text>
<text x="610.4" y="329.7" font-family="Liberation Sans" font-size="16.42" font-weight="bold" font-style="normal" fill="#6d6e71" text-anchor="end" textLength="36.9" lengthAdjust="spacingAndGlyphs" >RDU</text>
<text x="610.4" y="348.6" font-family="Liberation Sans" font-size="17.01" font-weight="bold" font-style="normal" fill="#6d6e71" text-anchor="end" textLength="87.7" lengthAdjust="spacingAndGlyphs" >Terminal 2</text>
<text x="684.2" y="431.2" font-family="Liberation Sans" font-size="14.97" font-weight="bold" font-style="normal" fill="#6d6e71" text-anchor="start" textLength="36.9" lengthAdjust="spacingAndGlyphs" >RDU</text>
<text x="684.2" y="450.6" font-family="Liberation Sans" font-size="16.28" font-weight="bold" font-style="normal" fill="#6d6e71" text-anchor="start" textLength="85.1" lengthAdjust="spacingAndGlyphs" >Terminal 1</text>
<text x="735.0" y="326.6" font-family="Liberation Sans" font-size="17.88" font-weight="bold" font-style="normal" fill="#6d6e71" text-anchor="start" textLength="153.2" lengthAdjust="spacingAndGlyphs" >Raleigh-Durham</text>
<text x="735.0" y="345.1" font-family="Liberation Sans" font-size="17.88" font-weight="bold" font-style="normal" fill="#6d6e71" text-anchor="start" textLength="194.1" lengthAdjust="spacingAndGlyphs" >International Airport</text>
<text x="1414.3" y="1135.8" font-family="Liberation Sans" font-size="17.44" font-weight="bold" font-style="normal" fill="#6d6e71" text-anchor="middle" textLength="73.4" lengthAdjust="spacingAndGlyphs" >Meredith</text>
<text x="1414.3" y="1154.8" font-family="Liberation Sans" font-size="15.99" font-weight="bold" font-style="normal" fill="#6d6e71" text-anchor="middle" textLength="63.9" lengthAdjust="spacingAndGlyphs" >College</text>
<text x="1508.3" y="1273.0" font-family="Liberation Sans" font-size="14.97" font-weight="bold" font-style="normal" fill="#6d6e71" text-anchor="middle" textLength="47.2" lengthAdjust="spacingAndGlyphs" >NCSU</text>
<text x="1782.0" y="1208.0" font-family="Liberation Sans" font-size="16.72" font-weight="bold" font-style="normal" fill="#6d6e71" text-anchor="middle" textLength="110.0" lengthAdjust="spacingAndGlyphs" >State Capitol</text>
<text transform="translate(1516.1,1178.3) rotate(-90)" x="0" y="0" font-family="Liberation Sans" font-size="20.35" font-weight="normal" fill="#a2a4a8" textLength="77.0" lengthAdjust="spacingAndGlyphs" stroke="#ffffff" stroke-width="0.35" stroke-linejoin="round">Brooks Ave</text>
<text transform="translate(1658.0,1218.5) rotate(-90)" x="0" y="0" font-family="Liberation Sans" font-size="20.35" font-weight="normal" fill="#a2a4a8" textLength="64.3" lengthAdjust="spacingAndGlyphs" stroke="#ffffff" stroke-width="0.35" stroke-linejoin="round">S West St</text>
<text transform="translate(1687.4,1356.2) rotate(-90)" x="0" y="0" font-family="Liberation Sans" font-size="20.06" font-weight="normal" fill="#a2a4a8" textLength="89.5" lengthAdjust="spacingAndGlyphs" stroke="#ffffff" stroke-width="0.35" stroke-linejoin="round">Harrington St</text>
<text transform="translate(1742.3,1356.4) rotate(-90)" x="0" y="0" font-family="Liberation Sans" font-size="19.77" font-weight="normal" fill="#a2a4a8" textLength="79.2" lengthAdjust="spacingAndGlyphs" stroke="#ffffff" stroke-width="0.35" stroke-linejoin="round">Salisbury St</text>
<text transform="translate(1887.1,1280.8) rotate(-90)" x="0" y="0" font-family="Liberation Sans" font-size="20.64" font-weight="normal" fill="#a2a4a8" textLength="96.0" lengthAdjust="spacingAndGlyphs" stroke="#ffffff" stroke-width="0.35" stroke-linejoin="round">Wilmington St</text>
<text x="1782.0" y="1270.5" font-family="Liberation Sans" font-size="17.73" font-weight="normal" font-style="normal" fill="#a2a4a8" text-anchor="start" textLength="68.1" lengthAdjust="spacingAndGlyphs" stroke="#ffffff" stroke-width="0.35" stroke-linejoin="round" >Morgan St</text>
<text transform="translate(357.6,606.6) rotate(-45)" x="0" y="0" font-family="Liberation Sans" font-size="17.15" font-weight="normal" fill="#a2a4a8" textLength="85.2" lengthAdjust="spacingAndGlyphs" stroke="#ffffff" stroke-width="0.35" stroke-linejoin="round">Airport Blvd</text>
<text transform="translate(194.9,562.8) rotate(45)" x="0" y="0" font-family="Liberation Sans" font-size="17.88" font-weight="bold" fill="#ffffff" textLength="61.2" lengthAdjust="spacingAndGlyphs">Slater Rd</text>
<text transform="translate(546.3,561.3) rotate(45)" x="0" y="0" font-family="Liberation Sans" font-size="18.60" font-weight="bold" fill="#ffffff" textLength="96.2" lengthAdjust="spacingAndGlyphs">Aviation Pkwy</text>
<text transform="translate(1154.5,1027.0) rotate(0)" x="0" y="0" font-family="Liberation Sans" font-size="17.44" font-weight="bold" fill="#ffffff" textLength="68.1" lengthAdjust="spacingAndGlyphs">Wade Ave</text>
<text transform="translate(1299.0,1154.9) rotate(-90)" x="0" y="0" font-family="Liberation Sans" font-size="19.62" font-weight="bold" fill="#ffffff" textLength="94.4" lengthAdjust="spacingAndGlyphs">Blue Ridge Rd</text>
<text transform="translate(1331.0,1217.7) rotate(0)" x="0" y="0" font-family="Liberation Sans" font-size="17.88" font-weight="bold" fill="#ffffff" textLength="102.6" lengthAdjust="spacingAndGlyphs">Hillsborough St</text>
<text transform="translate(1787.2,1302.9) rotate(0)" x="0" y="0" font-family="Liberation Sans" font-size="17.73" font-weight="bold" fill="#ffffff" textLength="67.7" lengthAdjust="spacingAndGlyphs">Hargett St</text>
<text transform="translate(1796.8,1378.2) rotate(0)" x="0" y="0" font-family="Liberation Sans" font-size="17.59" font-weight="bold" fill="#ffffff" textLength="59.6" lengthAdjust="spacingAndGlyphs">Martin St</text>
<text x="100.6" y="878.9" font-family="Liberation Sans" font-size="45.06" font-weight="bold" font-style="normal" fill="#00a651" text-anchor="start" textLength="240.0" lengthAdjust="spacingAndGlyphs" stroke="#00a651" stroke-width="2.4" stroke-linejoin="round" >Route 100</text>
<rect x="363.1" y="830.7" width="2.0" height="60.8" fill="#bcbec0" />
<text x="392.7" y="873.6" font-family="Liberation Sans" font-size="29.36" font-weight="normal" font-style="normal" fill="#3a3a3c" text-anchor="start" textLength="89.3" lengthAdjust="spacingAndGlyphs" stroke="#ffffff" stroke-width="0.5" stroke-linejoin="round" >LEGEND</text>
<rect x="101.4" y="892.5" width="468.1" height="2.2" fill="#c7c8ca" />
<path d="M286.6 1086 L286.6 1147 Q286.6 1161 300.6 1161 L521 1161" fill="none" stroke="#0e1c29" stroke-width="21" stroke-linecap="butt" stroke-linejoin="miter" />
<circle cx="521.0" cy="1161.0" r="10.5" fill="#0e1c29" />
<path d="M319.8 1086 L319.8 1106.8 Q319.8 1114.8 327.8 1114.8 L504 1114.8" fill="none" stroke="#f9ad34" stroke-width="9" stroke-linecap="butt" stroke-linejoin="miter" />
<circle cx="504.0" cy="1114.8" r="4.5" fill="#f9ad34" />
<rect x="123.2" y="1076.4" width="35.5" height="20.7" fill="#00a651" />
<rect x="198.3" y="1076.4" width="35.5" height="20.7" fill="#00a651" />
<rect x="265.1" y="1076.4" width="395.0" height="20.7" fill="#00a651" />
<g transform="translate(108.0,1087.3) rotate(0)">
<rect x="-12.2" y="-12.2" width="24.5" height="24.5" fill="#0e1c29" />
<g transform="scale(1.114)" fill="#fff">
<path d="M-6.4 -5.5 Q-6.4 -8.2 0 -8.4 Q6.4 -8.2 6.4 -5.5 L6.4 8.1 L3.6 8.1 L3.1 6.2 L-3.1 6.2 L-3.6 8.1 L-6.4 8.1 Z"/>
<rect x="-7.6" y="-1.2" width="15.2" height="2.2" rx="1"/>
<path d="M-5.6 -4.1 L5.6 -4.1 L5.1 1.3 L-5.1 1.3 Z" fill="#0e1c29"/>
<rect x="-4.2" y="-6.4" width="8.4" height="1.1" rx="0.5" fill="#0e1c29"/>
<rect x="-5" y="3.2" width="2" height="1.2" fill="#0e1c29"/><rect x="3" y="3.2" width="2" height="1.2" fill="#0e1c29"/>
</g></g>
<g transform="translate(178.5,1088.3) rotate(0)">
<rect x="-17.4" y="-17.4" width="34.8" height="34.8" fill="#ffffff" />
<rect x="-14.2" y="-14.2" width="28.3" height="28.3" fill="#fff" stroke="#1aa14f" stroke-width="2.6"/>
<text x="0" y="7.31" font-family="Liberation Sans" font-weight="bold" font-size="21.26" fill="#0e1c29" text-anchor="middle" stroke="#0e1c29" stroke-width="0.8">1</text>
</g>
<g transform="translate(249.6,1087.4) rotate(0)">
<rect x="-13.3" y="-13.3" width="26.6" height="26.6" fill="#148f88" />
<text x="0.5" y="8.0" font-family="Liberation Sans" font-weight="bold" font-size="21.8" fill="#fff" text-anchor="middle">P</text>
</g>
<text x="357.8" y="1092.9" font-family="Liberation Sans" font-size="18.75" font-weight="bold" font-style="normal" fill="#ffffff" text-anchor="start" textLength="102.5" lengthAdjust="spacingAndGlyphs" >ROUTE 100</text>
<circle cx="585.3" cy="1087.1" r="18.2" fill="#ffffff" />
<g transform="translate(585.3,1087.1) scale(1.020)">
<clipPath id="shc6"><path d="M-11.2 -14.2 Q-8 -15.6 -3 -14.8 Q0 -15.8 3 -14.8 Q8 -15.6 11.2 -14.2 L14.4 -6.5 C15.2 3 9.5 12.5 0 15 C-9.5 12.5 -15.2 3 -14.4 -6.5 Z"/></clipPath>
<path d="M-11.2 -14.2 Q-8 -15.6 -3 -14.8 Q0 -15.8 3 -14.8 Q8 -15.6 11.2 -14.2 L14.4 -6.5 C15.2 3 9.5 12.5 0 15 C-9.5 12.5 -15.2 3 -14.4 -6.5 Z" fill="#ffffff" stroke="#d4d5d7" stroke-width="1"/>
<rect x="-16" y="-17" width="32" height="9.4" fill="#bcbec1" clip-path="url(#shc6)"/>
<text x="0" y="7.1" font-family="Liberation Sans" font-weight="bold" font-size="16.9" fill="#b9bbbe" text-anchor="middle" textLength="21" lengthAdjust="spacingAndGlyphs" stroke="#b9bbbe" stroke-width="0.7">40</text>
</g>
<circle cx="668.0" cy="1086.4" r="11.8" fill="#0e1c29" />
<circle cx="668.0" cy="1086.4" r="9.7" fill="#ffffff" />
<circle cx="668.0" cy="1086.4" r="7.4" fill="#0e1c29" />
<polygon points="663.0,1083.8 673.0,1083.8 668.0,1090.5" fill="#10a550" />
<text x="319.7" y="1139.2" font-family="Liberation Sans" font-size="18.75" font-weight="bold" font-style="normal" fill="#6d6e71" text-anchor="start" textLength="285.2" lengthAdjust="spacingAndGlyphs" >RDU SHUTTLE BEFORE 6:30PM</text>
<text x="319.7" y="1197.1" font-family="Liberation Sans" font-size="18.75" font-weight="bold" font-style="normal" fill="#6d6e71" text-anchor="start" textLength="276.2" lengthAdjust="spacingAndGlyphs" >NIGHTS STARTING AT 6:30PM</text>
<polygon points="116.3,1056.7 128.7,1054.2 120.3,1044.9" fill="#6d6e71" />
<text transform="translate(135.7,1046.5) rotate(-45)" x="0" y="0" font-family="Liberation Sans" font-size="16.28" font-weight="normal" fill="#6d6e71" textLength="100.1" lengthAdjust="spacingAndGlyphs" stroke="#ffffff" stroke-width="0.3" stroke-linejoin="round">Transfer Point</text>
<polygon points="191.2,1059.3 203.8,1056.1 195.2,1047.2" fill="#6d6e71" />
<text transform="translate(211.0,1048.8) rotate(-45)" x="0" y="0" font-family="Liberation Sans" font-size="16.28" font-weight="normal" fill="#6d6e71" textLength="77.1" lengthAdjust="spacingAndGlyphs" stroke="#ffffff" stroke-width="0.3" stroke-linejoin="round">Time Point</text>
<polygon points="261.8,1063.0 274.4,1059.6 266.3,1050.9" fill="#6d6e71" />
<text transform="translate(281.9,1053.2) rotate(-45)" x="0" y="0" font-family="Liberation Sans" font-size="16.28" font-weight="normal" fill="#6d6e71" textLength="125.2" lengthAdjust="spacingAndGlyphs" stroke="#ffffff" stroke-width="0.3" stroke-linejoin="round">Park-and-ride Lot</text>
<polygon points="594.1,1062.0 606.2,1058.1 599.2,1050.4" fill="#6d6e71" />
<text transform="translate(614.0,1053.3) rotate(-45)" x="0" y="0" font-family="Liberation Sans" font-size="16.28" font-weight="normal" fill="#6d6e71" textLength="63.3" lengthAdjust="spacingAndGlyphs" stroke="#ffffff" stroke-width="0.3" stroke-linejoin="round">Highway</text>
<polygon points="678.3,1062.0 691.1,1058.1 683.4,1050.4" fill="#6d6e71" />
<text transform="translate(698.9,1053.3) rotate(-45)" x="0" y="0" font-family="Liberation Sans" font-size="16.28" font-weight="normal" fill="#6d6e71" textLength="116.4" lengthAdjust="spacingAndGlyphs" stroke="#ffffff" stroke-width="0.3" stroke-linejoin="round">Point of Interest</text>
<text x="152.1" y="1251.0" font-family="Liberation Sans" font-size="20.35" font-weight="bold" font-style="normal" fill="#13a04d" text-anchor="start" textLength="462.7" lengthAdjust="spacingAndGlyphs" >NO SMOKING IS ALLOWED ON GOTRIANGLE VEHICLES</text>
<text x="152.1" y="1272.0" font-family="Liberation Sans" font-size="18.90" font-weight="normal" font-style="normal" fill="#3c3c3e" text-anchor="start" textLength="649.0" lengthAdjust="spacingAndGlyphs" >Smoking and/or the use of vapor products, including e-cigarettes, is not permitted on GoTriangle</text>
<text x="152.1" y="1292.0" font-family="Liberation Sans" font-size="18.90" font-weight="normal" font-style="normal" fill="#3c3c3e" text-anchor="start" textLength="606.0" lengthAdjust="spacingAndGlyphs" >vehicles, at bus stops and city-owned sidewalks within Orange, Durham and Wake County.</text>
<text x="152.1" y="1347.5" font-family="Liberation Sans" font-size="18.60" font-weight="bold" font-style="normal" fill="#13a04d" text-anchor="start" textLength="116.1" lengthAdjust="spacingAndGlyphs" >PLEASE NOTE:</text>
<text x="152.1" y="1372.1" font-family="Liberation Sans" font-size="20.35" font-weight="normal" font-style="normal" fill="#1e1e20" text-anchor="start" textLength="220.2" lengthAdjust="spacingAndGlyphs" >Not all stops shown on map</text>
<rect x="1389.0" y="274.0" width="678.0" height="366.0" fill="#0e1c29" />
<text x="1409.2" y="325.0" font-family="Liberation Sans" font-size="32.70" font-weight="bold" font-style="normal" fill="#0bb04f" text-anchor="start" textLength="271.9" lengthAdjust="spacingAndGlyphs" stroke="#0bb04f" stroke-width="1.6" stroke-linejoin="round" >DID YOU KNOW?</text>
<text x="1417.5" y="353.4" font-family="Liberation Sans" font-size="18.17" font-weight="bold" font-style="normal" fill="#ffffff" text-anchor="start" textLength="166.0" lengthAdjust="spacingAndGlyphs" >RDU Airport Transit</text>
<circle cx="1421.0" cy="367.5" r="2.4" fill="#ffffff" />
<text x="1455.9" y="372.7" font-family="Liberation Sans" font-size="15.70" font-weight="normal" font-style="normal" fill="#ffffff" text-anchor="start" textLength="464.8" lengthAdjust="spacingAndGlyphs" >Before 6:30 p.m.: The RDU Shuttle departs the Regional</text>
<text x="1455.9" y="392.8" font-family="Liberation Sans" font-size="15.70" font-weight="normal" font-style="normal" fill="#ffffff" text-anchor="start" textLength="446.7" lengthAdjust="spacingAndGlyphs" >Transit Center (RTC) for the airport every 30 minutes.</text>
<circle cx="1421.0" cy="407.8" r="2.4" fill="#ffffff" />
<text x="1455.9" y="413.0" font-family="Liberation Sans" font-size="15.70" font-weight="normal" font-style="normal" fill="#ffffff" text-anchor="start" textLength="462.1" lengthAdjust="spacingAndGlyphs" >The RDU Shuttle is timed to meet Routes 100, 310, 700,</text>
<text x="1455.9" y="433.1" font-family="Liberation Sans" font-size="15.70" font-weight="normal" font-style="normal" fill="#ffffff" text-anchor="start" textLength="223.6" lengthAdjust="spacingAndGlyphs" >and 800 for easy transfers.</text>
<circle cx="1421.0" cy="448.1" r="2.4" fill="#ffffff" />
<text x="1455.9" y="453.3" font-family="Liberation Sans" font-size="15.70" font-weight="normal" font-style="normal" fill="#ffffff" text-anchor="start" textLength="473.4" lengthAdjust="spacingAndGlyphs" >Starting at 6:30 p.m.: Route 100 departs every hour from</text>
<text x="1455.9" y="473.4" font-family="Liberation Sans" font-size="15.70" font-weight="normal" font-style="normal" fill="#ffffff" text-anchor="start" textLength="457.0" lengthAdjust="spacingAndGlyphs" >the Regional Transit Center and Raleigh, directly to the</text>
<text x="1455.9" y="493.6" font-family="Liberation Sans" font-size="15.70" font-weight="normal" font-style="normal" fill="#ffffff" text-anchor="start" textLength="60.0" lengthAdjust="spacingAndGlyphs" >airport.</text>
<text x="1417.6" y="535.5" font-family="Liberation Sans" font-size="18.17" font-weight="bold" font-style="normal" fill="#ffffff" text-anchor="start" textLength="95.2" lengthAdjust="spacingAndGlyphs" >RTP Transit</text>
<circle cx="1421.0" cy="549.8" r="2.4" fill="#ffffff" />
<text x="1455.9" y="555.0" font-family="Liberation Sans" font-size="15.70" font-weight="normal" font-style="normal" fill="#ffffff" text-anchor="start" textLength="477.5" lengthAdjust="spacingAndGlyphs" >Scan QR code for more information on how RTP Connect</text>
<text x="1455.9" y="575.3" font-family="Liberation Sans" font-size="15.70" font-weight="normal" font-style="normal" fill="#ffffff" text-anchor="start" textLength="453.9" lengthAdjust="spacingAndGlyphs" >provides connections from the Regional Transit Center</text>
<text x="1455.9" y="595.6" font-family="Liberation Sans" font-size="15.70" font-weight="normal" font-style="normal" fill="#ffffff" text-anchor="start" textLength="415.2" lengthAdjust="spacingAndGlyphs" >(RTC) to destinations within and around Research</text>
<text x="1455.9" y="615.9" font-family="Liberation Sans" font-size="15.70" font-weight="normal" font-style="normal" fill="#ffffff" text-anchor="start" textLength="111.6" lengthAdjust="spacingAndGlyphs" >Triangle Park.</text>
<rect x="1944.8" y="541.0" width="69.2" height="69.0" fill="#ffffff" />
<path d="M1968.38 545.00h2.50v2.50h-2.50zM1970.83 545.00h2.50v2.50h-2.50zM1975.73 545.00h2.50v2.50h-2.50zM1980.62 545.00h2.50v2.50h-2.50zM1983.07 545.00h2.50v2.50h-2.50zM1987.97 545.00h2.50v2.50h-2.50zM1968.38 547.45h2.50v2.50h-2.50zM1970.83 547.45h2.50v2.50h-2.50zM1973.28 547.45h2.50v2.50h-2.50zM1975.73 547.45h2.50v2.50h-2.50zM1980.62 547.45h2.50v2.50h-2.50zM1983.07 547.45h2.50v2.50h-2.50zM1970.83 549.90h2.50v2.50h-2.50zM1975.73 549.90h2.50v2.50h-2.50zM1980.62 549.90h2.50v2.50h-2.50zM1983.07 549.90h2.50v2.50h-2.50zM1985.52 549.90h2.50v2.50h-2.50zM1987.97 549.90h2.50v2.50h-2.50zM1970.83 552.34h2.50v2.50h-2.50zM1978.18 552.34h2.50v2.50h-2.50zM1983.07 552.34h2.50v2.50h-2.50zM1985.52 552.34h2.50v2.50h-2.50zM1987.97 552.34h2.50v2.50h-2.50zM1970.83 554.79h2.50v2.50h-2.50zM1973.28 554.79h2.50v2.50h-2.50zM1978.18 554.79h2.50v2.50h-2.50zM1980.62 554.79h2.50v2.50h-2.50zM1987.97 554.79h2.50v2.50h-2.50zM1978.18 557.24h2.50v2.50h-2.50zM1983.07 557.24h2.50v2.50h-2.50zM1985.52 557.24h2.50v2.50h-2.50zM1968.38 559.69h2.50v2.50h-2.50zM1970.83 559.69h2.50v2.50h-2.50zM1973.28 559.69h2.50v2.50h-2.50zM1985.52 559.69h2.50v2.50h-2.50zM1973.28 562.14h2.50v2.50h-2.50zM1980.62 562.14h2.50v2.50h-2.50zM1985.52 562.14h2.50v2.50h-2.50zM1956.14 564.58h2.50v2.50h-2.50zM1958.59 564.58h2.50v2.50h-2.50zM1963.49 564.58h2.50v2.50h-2.50zM1965.94 564.58h2.50v2.50h-2.50zM1968.38 564.58h2.50v2.50h-2.50zM1970.83 564.58h2.50v2.50h-2.50zM1973.28 564.58h2.50v2.50h-2.50zM1978.18 564.58h2.50v2.50h-2.50zM1980.62 564.58h2.50v2.50h-2.50zM1983.07 564.58h2.50v2.50h-2.50zM1987.97 564.58h2.50v2.50h-2.50zM1990.42 564.58h2.50v2.50h-2.50zM2002.66 564.58h2.50v2.50h-2.50zM2005.10 564.58h2.50v2.50h-2.50zM2007.55 564.58h2.50v2.50h-2.50zM1953.70 567.03h2.50v2.50h-2.50zM1956.14 567.03h2.50v2.50h-2.50zM1958.59 567.03h2.50v2.50h-2.50zM1961.04 567.03h2.50v2.50h-2.50zM1963.49 567.03h2.50v2.50h-2.50zM1968.38 567.03h2.50v2.50h-2.50zM1970.83 567.03h2.50v2.50h-2.50zM1973.28 567.03h2.50v2.50h-2.50zM1975.73 567.03h2.50v2.50h-2.50zM1992.86 567.03h2.50v2.50h-2.50zM2005.10 567.03h2.50v2.50h-2.50zM2007.55 567.03h2.50v2.50h-2.50zM1948.80 569.48h2.50v2.50h-2.50zM1953.70 569.48h2.50v2.50h-2.50zM1956.14 569.48h2.50v2.50h-2.50zM1958.59 569.48h2.50v2.50h-2.50zM1961.04 569.48h2.50v2.50h-2.50zM1963.49 569.48h2.50v2.50h-2.50zM1965.94 569.48h2.50v2.50h-2.50zM1968.38 569.48h2.50v2.50h-2.50zM1970.83 569.48h2.50v2.50h-2.50zM1973.28 569.48h2.50v2.50h-2.50zM1975.73 569.48h2.50v2.50h-2.50zM1978.18 569.48h2.50v2.50h-2.50zM1985.52 569.48h2.50v2.50h-2.50zM1987.97 569.48h2.50v2.50h-2.50zM1990.42 569.48h2.50v2.50h-2.50zM1992.86 569.48h2.50v2.50h-2.50zM1995.31 569.48h2.50v2.50h-2.50zM2002.66 569.48h2.50v2.50h-2.50zM2005.10 569.48h2.50v2.50h-2.50zM2007.55 569.48h2.50v2.50h-2.50zM1948.80 571.93h2.50v2.50h-2.50zM1951.25 571.93h2.50v2.50h-2.50zM1953.70 571.93h2.50v2.50h-2.50zM1958.59 571.93h2.50v2.50h-2.50zM1961.04 571.93h2.50v2.50h-2.50zM1968.38 571.93h2.50v2.50h-2.50zM1973.28 571.93h2.50v2.50h-2.50zM1985.52 571.93h2.50v2.50h-2.50zM1987.97 571.93h2.50v2.50h-2.50zM1990.42 571.93h2.50v2.50h-2.50zM2000.21 571.93h2.50v2.50h-2.50zM2002.66 571.93h2.50v2.50h-2.50zM1958.59 574.38h2.50v2.50h-2.50zM1963.49 574.38h2.50v2.50h-2.50zM1965.94 574.38h2.50v2.50h-2.50zM1968.38 574.38h2.50v2.50h-2.50zM1970.83 574.38h2.50v2.50h-2.50zM1973.28 574.38h2.50v2.50h-2.50zM1980.62 574.38h2.50v2.50h-2.50zM1990.42 574.38h2.50v2.50h-2.50zM1992.86 574.38h2.50v2.50h-2.50zM1995.31 574.38h2.50v2.50h-2.50zM1997.76 574.38h2.50v2.50h-2.50zM2000.21 574.38h2.50v2.50h-2.50zM1948.80 576.82h2.50v2.50h-2.50zM1956.14 576.82h2.50v2.50h-2.50zM1968.38 576.82h2.50v2.50h-2.50zM1970.83 576.82h2.50v2.50h-2.50zM1975.73 576.82h2.50v2.50h-2.50zM1983.07 576.82h2.50v2.50h-2.50zM1985.52 576.82h2.50v2.50h-2.50zM1992.86 576.82h2.50v2.50h-2.50zM1995.31 576.82h2.50v2.50h-2.50zM1997.76 576.82h2.50v2.50h-2.50zM2005.10 576.82h2.50v2.50h-2.50zM1953.70 579.27h2.50v2.50h-2.50zM1958.59 579.27h2.50v2.50h-2.50zM1961.04 579.27h2.50v2.50h-2.50zM1973.28 579.27h2.50v2.50h-2.50zM1980.62 579.27h2.50v2.50h-2.50zM1983.07 579.27h2.50v2.50h-2.50zM1985.52 579.27h2.50v2.50h-2.50zM1987.97 579.27h2.50v2.50h-2.50zM1992.86 579.27h2.50v2.50h-2.50zM1995.31 579.27h2.50v2.50h-2.50zM1997.76 579.27h2.50v2.50h-2.50zM2002.66 579.27h2.50v2.50h-2.50zM2005.10 579.27h2.50v2.50h-2.50zM1951.25 581.72h2.50v2.50h-2.50zM1963.49 581.72h2.50v2.50h-2.50zM1965.94 581.72h2.50v2.50h-2.50zM1968.38 581.72h2.50v2.50h-2.50zM1970.83 581.72h2.50v2.50h-2.50zM1975.73 581.72h2.50v2.50h-2.50zM1978.18 581.72h2.50v2.50h-2.50zM1985.52 581.72h2.50v2.50h-2.50zM1995.31 581.72h2.50v2.50h-2.50zM2000.21 581.72h2.50v2.50h-2.50zM2002.66 581.72h2.50v2.50h-2.50zM1956.14 584.17h2.50v2.50h-2.50zM1968.38 584.17h2.50v2.50h-2.50zM1973.28 584.17h2.50v2.50h-2.50zM1985.52 584.17h2.50v2.50h-2.50zM1995.31 584.17h2.50v2.50h-2.50zM1997.76 584.17h2.50v2.50h-2.50zM2000.21 584.17h2.50v2.50h-2.50zM2002.66 584.17h2.50v2.50h-2.50zM2005.10 584.17h2.50v2.50h-2.50zM2007.55 584.17h2.50v2.50h-2.50zM1975.73 586.62h2.50v2.50h-2.50zM1983.07 586.62h2.50v2.50h-2.50zM1990.42 586.62h2.50v2.50h-2.50zM1995.31 586.62h2.50v2.50h-2.50zM1997.76 586.62h2.50v2.50h-2.50zM2005.10 586.62h2.50v2.50h-2.50zM2007.55 586.62h2.50v2.50h-2.50zM1970.83 589.06h2.50v2.50h-2.50zM1973.28 589.06h2.50v2.50h-2.50zM1975.73 589.06h2.50v2.50h-2.50zM1980.62 589.06h2.50v2.50h-2.50zM1985.52 589.06h2.50v2.50h-2.50zM1987.97 589.06h2.50v2.50h-2.50zM1990.42 589.06h2.50v2.50h-2.50zM1997.76 589.06h2.50v2.50h-2.50zM2007.55 589.06h2.50v2.50h-2.50zM1968.38 591.51h2.50v2.50h-2.50zM1970.83 591.51h2.50v2.50h-2.50zM1975.73 591.51h2.50v2.50h-2.50zM1978.18 591.51h2.50v2.50h-2.50zM1980.62 591.51h2.50v2.50h-2.50zM1987.97 591.51h2.50v2.50h-2.50zM1990.42 591.51h2.50v2.50h-2.50zM2000.21 591.51h2.50v2.50h-2.50zM2002.66 591.51h2.50v2.50h-2.50zM2007.55 591.51h2.50v2.50h-2.50zM1968.38 593.96h2.50v2.50h-2.50zM1978.18 593.96h2.50v2.50h-2.50zM1983.07 593.96h2.50v2.50h-2.50zM1987.97 593.96h2.50v2.50h-2.50zM1990.42 593.96h2.50v2.50h-2.50zM1997.76 593.96h2.50v2.50h-2.50zM2000.21 593.96h2.50v2.50h-2.50zM2005.10 593.96h2.50v2.50h-2.50zM2007.55 593.96h2.50v2.50h-2.50zM1968.38 596.41h2.50v2.50h-2.50zM1970.83 596.41h2.50v2.50h-2.50zM1973.28 596.41h2.50v2.50h-2.50zM1975.73 596.41h2.50v2.50h-2.50zM1978.18 596.41h2.50v2.50h-2.50zM1983.07 596.41h2.50v2.50h-2.50zM1987.97 596.41h2.50v2.50h-2.50zM1990.42 596.41h2.50v2.50h-2.50zM1992.86 596.41h2.50v2.50h-2.50zM1995.31 596.41h2.50v2.50h-2.50zM1997.76 596.41h2.50v2.50h-2.50zM2005.10 596.41h2.50v2.50h-2.50zM2007.55 596.41h2.50v2.50h-2.50zM1970.83 598.86h2.50v2.50h-2.50zM1975.73 598.86h2.50v2.50h-2.50zM1978.18 598.86h2.50v2.50h-2.50zM1983.07 598.86h2.50v2.50h-2.50zM1992.86 598.86h2.50v2.50h-2.50zM2002.66 598.86h2.50v2.50h-2.50zM2005.10 598.86h2.50v2.50h-2.50zM2007.55 598.86h2.50v2.50h-2.50zM1968.38 601.30h2.50v2.50h-2.50zM1970.83 601.30h2.50v2.50h-2.50zM1975.73 601.30h2.50v2.50h-2.50zM1978.18 601.30h2.50v2.50h-2.50zM1980.62 601.30h2.50v2.50h-2.50zM1990.42 601.30h2.50v2.50h-2.50zM1992.86 601.30h2.50v2.50h-2.50zM1995.31 601.30h2.50v2.50h-2.50zM1997.76 601.30h2.50v2.50h-2.50zM2000.21 601.30h2.50v2.50h-2.50zM2002.66 601.30h2.50v2.50h-2.50zM2005.10 601.30h2.50v2.50h-2.50zM1973.28 603.75h2.50v2.50h-2.50zM1978.18 603.75h2.50v2.50h-2.50zM1980.62 603.75h2.50v2.50h-2.50zM1983.07 603.75h2.50v2.50h-2.50zM1985.52 603.75h2.50v2.50h-2.50zM1987.97 603.75h2.50v2.50h-2.50zM1992.86 603.75h2.50v2.50h-2.50zM1997.76 603.75h2.50v2.50h-2.50zM2000.21 603.75h2.50v2.50h-2.50zM2002.66 603.75h2.50v2.50h-2.50zM2005.10 603.75h2.50v2.50h-2.50zM2007.55 603.75h2.50v2.50h-2.50z" fill="#0e1c29"/>
<rect x="1948.8" y="545.0" width="17.1" height="17.1" fill="#0e1c29" />
<rect x="1951.2" y="547.4" width="12.2" height="12.2" fill="#fff" />
<rect x="1953.7" y="549.9" width="7.3" height="7.3" fill="#19a84f" />
<rect x="1992.9" y="545.0" width="17.1" height="17.1" fill="#0e1c29" />
<rect x="1995.3" y="547.4" width="12.2" height="12.2" fill="#fff" />
<rect x="1997.8" y="549.9" width="7.3" height="7.3" fill="#19a84f" />
<rect x="1948.8" y="589.1" width="17.1" height="17.1" fill="#0e1c29" />
<rect x="1951.2" y="591.5" width="12.2" height="12.2" fill="#fff" />
<rect x="1953.7" y="594.0" width="7.3" height="7.3" fill="#19a84f" />
<rect x="0.0" y="0.0" width="2098.0" height="237.5" fill="#0e1c29" />
<g clip-path="url(#hdrclip)"><path d="M-6.8 -8.0L1.7 -8.0L-2.5 -15.4ZM0.8 -17.5L9.0 -17.5L4.9 -10.3ZM8.3 -8.2L16.4 -8.2L12.4 -15.2ZM15.9 -17.3L23.7 -17.3L19.8 -10.5ZM23.5 -8.4L31.0 -8.4L27.2 -15.0ZM31.1 -17.1L38.3 -17.1L34.7 -10.7ZM38.6 -8.6L45.7 -8.6L42.2 -14.8ZM46.2 -16.9L53.0 -16.9L49.6 -10.9ZM53.8 -8.8L60.3 -8.8L57.1 -14.6ZM61.3 -16.7L67.7 -16.7L64.5 -11.1ZM68.9 -9.0L75.0 -9.0L72.0 -14.4ZM76.5 -16.5L82.3 -16.5L79.4 -11.3ZM84.0 -9.2L89.7 -9.2L86.8 -14.2ZM91.6 -16.3L97.0 -16.3L94.3 -11.5ZM99.2 -9.4L104.3 -9.4L101.8 -14.0ZM106.8 -16.1L111.6 -16.1L109.2 -11.7ZM114.3 -9.6L119.0 -9.6L116.7 -13.8ZM121.9 -15.8L126.3 -15.8L124.1 -12.0ZM129.5 -9.9L133.6 -9.9L131.6 -13.5ZM137.0 -15.6L141.0 -15.6L139.0 -12.2ZM144.6 -10.1L148.3 -10.1L146.4 -13.3ZM152.2 -15.4L155.6 -15.4L153.9 -12.4ZM159.7 -10.3L163.0 -10.3L161.3 -13.1ZM167.3 -15.2L170.3 -15.2L168.8 -12.6ZM174.9 -10.5L177.6 -10.5L176.2 -12.9ZM182.4 -15.0L185.0 -15.0L183.7 -12.8ZM190.0 -10.7L192.3 -10.7L191.2 -12.7ZM197.6 -14.8L199.6 -14.8L198.6 -13.0ZM205.2 -10.9L206.9 -10.9L206.1 -12.5ZM212.7 -14.6L214.3 -14.6L213.5 -13.2ZM220.3 -11.1L221.6 -11.1L220.9 -12.3ZM227.9 -14.4L228.9 -14.4L228.4 -13.4ZM235.4 -11.3L236.3 -11.3L235.8 -12.1ZM243.0 -14.2L243.6 -14.2L243.3 -13.6ZM250.6 -11.5L250.9 -11.5L250.8 -11.9ZM-6.8 -4.7L1.7 -4.7L-2.5 2.7ZM0.8 4.8L9.0 4.8L4.9 -2.4ZM8.3 -4.5L16.4 -4.5L12.4 2.5ZM15.9 4.6L23.7 4.6L19.8 -2.2ZM23.5 -4.3L31.0 -4.3L27.2 2.3ZM31.1 4.4L38.3 4.4L34.7 -2.0ZM38.6 -4.1L45.7 -4.1L42.2 2.1ZM46.2 4.2L53.0 4.2L49.6 -1.8ZM53.8 -3.9L60.3 -3.9L57.1 1.9ZM61.3 4.0L67.7 4.0L64.5 -1.6ZM68.9 -3.7L75.0 -3.7L72.0 1.7ZM76.5 3.8L82.3 3.8L79.4 -1.4ZM84.0 -3.5L89.7 -3.5L86.9 1.5ZM91.6 3.6L97.0 3.6L94.3 -1.2ZM99.2 -3.3L104.3 -3.3L101.8 1.3ZM106.8 3.4L111.6 3.4L109.2 -1.0ZM114.3 -3.1L119.0 -3.1L116.7 1.1ZM121.9 3.1L126.3 3.1L124.1 -0.7ZM129.5 -2.8L133.6 -2.8L131.6 0.8ZM137.0 2.9L141.0 2.9L139.0 -0.5ZM144.6 -2.6L148.3 -2.6L146.4 0.6ZM152.2 2.7L155.6 2.7L153.9 -0.3ZM159.7 -2.4L163.0 -2.4L161.3 0.4ZM167.3 2.5L170.3 2.5L168.8 -0.1ZM174.9 -2.2L177.6 -2.2L176.2 0.2ZM182.4 2.3L185.0 2.3L183.7 0.1ZM190.0 -2.0L192.3 -2.0L191.2 0.0ZM197.6 2.1L199.6 2.1L198.6 0.3ZM205.2 -1.8L206.9 -1.8L206.1 -0.2ZM212.7 1.9L214.3 1.9L213.5 0.5ZM220.3 -1.6L221.6 -1.6L220.9 -0.4ZM227.9 1.7L228.9 1.7L228.4 0.7ZM235.4 -1.4L236.3 -1.4L235.8 -0.6ZM243.0 1.5L243.6 1.5L243.3 0.9ZM250.6 -1.2L250.9 -1.2L250.8 -0.8ZM-6.8 17.8L1.7 17.8L-2.5 10.4ZM0.8 8.3L9.0 8.3L4.9 15.5ZM8.3 17.6L16.4 17.6L12.4 10.6ZM15.9 8.5L23.7 8.5L19.8 15.3ZM23.5 17.4L31.0 17.4L27.2 10.8ZM31.1 8.7L38.3 8.7L34.7 15.1ZM38.6 17.2L45.7 17.2L42.2 11.0ZM46.2 8.9L53.0 8.9L49.6 14.9ZM53.8 17.0L60.3 17.0L57.1 11.2ZM61.3 9.1L67.7 9.1L64.5 14.7ZM68.9 16.8L75.0 16.8L72.0 11.4ZM76.5 9.3L82.3 9.3L79.4 14.5ZM84.0 16.6L89.7 16.6L86.8 11.6ZM91.6 9.5L97.0 9.5L94.3 14.3ZM99.2 16.4L104.3 16.4L101.8 11.8ZM106.8 9.7L111.6 9.7L109.2 14.1ZM114.3 16.2L119.0 16.2L116.7 12.0ZM121.9 10.0L126.3 10.0L124.1 13.8ZM129.5 15.9L133.6 15.9L131.6 12.3ZM137.0 10.2L141.0 10.2L139.0 13.6ZM144.6 15.7L148.3 15.7L146.4 12.5ZM152.2 10.4L155.6 10.4L153.9 13.4ZM159.7 15.5L163.0 15.5L161.3 12.7ZM167.3 10.6L170.3 10.6L168.8 13.2ZM174.9 15.3L177.6 15.3L176.2 12.9ZM182.4 10.8L185.0 10.8L183.7 13.0ZM190.0 15.1L192.3 15.1L191.2 13.1ZM197.6 11.0L199.6 11.0L198.6 12.8ZM205.2 14.9L206.9 14.9L206.1 13.3ZM212.7 11.2L214.3 11.2L213.5 12.6ZM220.3 14.7L221.6 14.7L220.9 13.5ZM227.9 11.4L228.9 11.4L228.4 12.4ZM235.4 14.5L236.3 14.5L235.8 13.7ZM243.0 11.6L243.6 11.6L243.3 12.2ZM250.6 14.3L250.9 14.3L250.8 13.9ZM-6.8 21.1L1.7 21.1L-2.5 28.5ZM0.8 30.6L9.0 30.6L4.9 23.4ZM8.3 21.3L16.4 21.3L12.4 28.3ZM15.9 30.4L23.7 30.4L19.8 23.6ZM23.5 21.5L31.0 21.5L27.2 28.1ZM31.1 30.2L38.3 30.2L34.7 23.8ZM38.6 21.7L45.7 21.7L42.2 27.9ZM46.2 30.0L53.0 30.0L49.6 24.0ZM53.8 21.9L60.3 21.9L57.1 27.7ZM61.3 29.8L67.7 29.8L64.5 24.2ZM68.9 22.1L75.0 22.1L72.0 27.5ZM76.5 29.6L82.3 29.6L79.4 24.4ZM84.0 22.3L89.7 22.3L86.9 27.3ZM91.6 29.4L97.0 29.4L94.3 24.6ZM99.2 22.5L104.3 22.5L101.8 27.1ZM106.8 29.2L111.6 29.2L109.2 24.8ZM114.3 22.7L119.0 22.7L116.7 26.9ZM121.9 28.9L126.3 28.9L124.1 25.1ZM129.5 23.0L133.6 23.0L131.6 26.6ZM137.0 28.7L141.0 28.7L139.0 25.3ZM144.6 23.2L148.3 23.2L146.4 26.4ZM152.2 28.5L155.6 28.5L153.9 25.5ZM159.7 23.4L163.0 23.4L161.3 26.2ZM167.3 28.3L170.3 28.3L168.8 25.7ZM174.9 23.6L177.6 23.6L176.2 26.0ZM182.4 28.1L185.0 28.1L183.7 25.9ZM190.0 23.8L192.3 23.8L191.2 25.8ZM197.6 27.9L199.6 27.9L198.6 26.1ZM205.2 24.0L206.9 24.0L206.1 25.6ZM212.7 27.7L214.3 27.7L213.5 26.3ZM220.3 24.2L221.6 24.2L220.9 25.4ZM227.9 27.5L228.9 27.5L228.4 26.5ZM235.4 24.4L236.3 24.4L235.8 25.2ZM243.0 27.3L243.6 27.3L243.3 26.7ZM250.6 24.6L250.9 24.6L250.8 25.0ZM-6.8 43.6L1.7 43.6L-2.5 36.2ZM0.8 34.1L9.0 34.1L4.9 41.3ZM8.3 43.4L16.4 43.4L12.4 36.4ZM15.9 34.3L23.7 34.3L19.8 41.1ZM23.5 43.2L31.0 43.2L27.2 36.6ZM31.1 34.5L38.3 34.5L34.7 40.9ZM38.6 43.0L45.7 43.0L42.2 36.8ZM46.2 34.7L53.0 34.7L49.6 40.7ZM53.8 42.8L60.3 42.8L57.1 37.0ZM61.3 34.9L67.7 34.9L64.5 40.5ZM68.9 42.6L75.0 42.6L72.0 37.2ZM76.5 35.1L82.3 35.1L79.4 40.3ZM84.0 42.4L89.7 42.4L86.8 37.4ZM91.6 35.3L97.0 35.3L94.3 40.1ZM99.2 42.2L104.3 42.2L101.8 37.6ZM106.8 35.5L111.6 35.5L109.2 39.9ZM114.3 42.0L119.0 42.0L116.7 37.8ZM121.9 35.8L126.3 35.8L124.1 39.6ZM129.5 41.7L133.6 41.7L131.6 38.1ZM137.0 36.0L141.0 36.0L139.0 39.4ZM144.6 41.5L148.3 41.5L146.4 38.3ZM152.2 36.2L155.6 36.2L153.9 39.2ZM159.7 41.3L163.0 41.3L161.3 38.5ZM167.3 36.4L170.3 36.4L168.8 39.0ZM174.9 41.1L177.6 41.1L176.2 38.7ZM182.4 36.6L185.0 36.6L183.7 38.8ZM190.0 40.9L192.3 40.9L191.2 38.9ZM197.6 36.8L199.6 36.8L198.6 38.6ZM205.2 40.7L206.9 40.7L206.1 39.1ZM212.7 37.0L214.3 37.0L213.5 38.4ZM220.3 40.5L221.6 40.5L220.9 39.3ZM227.9 37.2L228.9 37.2L228.4 38.2ZM235.4 40.3L236.3 40.3L235.8 39.5ZM243.0 37.4L243.6 37.4L243.3 38.0ZM250.6 40.1L250.9 40.1L250.8 39.7ZM-6.8 46.9L1.7 46.9L-2.5 54.3ZM0.8 56.4L9.0 56.4L4.9 49.2ZM8.3 47.1L16.4 47.1L12.4 54.1ZM15.9 56.2L23.7 56.2L19.8 49.4ZM23.5 47.3L31.0 47.3L27.2 53.9ZM31.1 56.0L38.3 56.0L34.7 49.6ZM38.6 47.5L45.7 47.5L42.2 53.7ZM46.2 55.8L53.0 55.8L49.6 49.8ZM53.8 47.7L60.3 47.7L57.1 53.5ZM61.3 55.6L67.7 55.6L64.5 50.0ZM68.9 47.9L75.0 47.9L72.0 53.3ZM76.5 55.4L82.3 55.4L79.4 50.2ZM84.0 48.1L89.7 48.1L86.9 53.1ZM91.6 55.2L97.0 55.2L94.3 50.4ZM99.2 48.3L104.3 48.3L101.8 52.9ZM106.8 55.0L111.6 55.0L109.2 50.6ZM114.3 48.5L119.0 48.5L116.7 52.7ZM121.9 54.7L126.3 54.7L124.1 50.9ZM129.5 48.8L133.6 48.8L131.6 52.4ZM137.0 54.5L141.0 54.5L139.0 51.1ZM144.6 49.0L148.3 49.0L146.4 52.2ZM152.2 54.3L155.6 54.3L153.9 51.3ZM159.7 49.2L163.0 49.2L161.3 52.0ZM167.3 54.1L170.3 54.1L168.8 51.5ZM174.9 49.4L177.6 49.4L176.2 51.8ZM182.4 53.9L185.0 53.9L183.7 51.7ZM190.0 49.6L192.3 49.6L191.2 51.6ZM197.6 53.7L199.6 53.7L198.6 51.9ZM205.2 49.8L206.9 49.8L206.1 51.4ZM212.7 53.5L214.3 53.5L213.5 52.1ZM220.3 50.0L221.6 50.0L220.9 51.2ZM227.9 53.3L228.9 53.3L228.4 52.3ZM235.4 50.2L236.3 50.2L235.8 51.0ZM243.0 53.1L243.6 53.1L243.3 52.5ZM250.6 50.4L250.9 50.4L250.8 50.8ZM-6.8 69.4L1.7 69.4L-2.5 62.0ZM0.8 59.9L9.0 59.9L4.9 67.1ZM8.3 69.2L16.4 69.2L12.4 62.2ZM15.9 60.1L23.7 60.1L19.8 66.9ZM23.5 69.0L31.0 69.0L27.2 62.4ZM31.1 60.3L38.3 60.3L34.7 66.7ZM38.6 68.8L45.7 68.8L42.2 62.6ZM46.2 60.5L53.0 60.5L49.6 66.5ZM53.8 68.6L60.3 68.6L57.1 62.8ZM61.3 60.7L67.7 60.7L64.5 66.3ZM68.9 68.4L75.0 68.4L72.0 63.0ZM76.5 60.9L82.3 60.9L79.4 66.1ZM84.0 68.2L89.7 68.2L86.8 63.2ZM91.6 61.1L97.0 61.1L94.3 65.9ZM99.2 68.0L104.3 68.0L101.8 63.4ZM106.8 61.3L111.6 61.3L109.2 65.7ZM114.3 67.8L119.0 67.8L116.7 63.6ZM121.9 61.6L126.3 61.6L124.1 65.4ZM129.5 67.5L133.6 67.5L131.6 63.9ZM137.0 61.8L141.0 61.8L139.0 65.2ZM144.6 67.3L148.3 67.3L146.4 64.1ZM152.2 62.0L155.6 62.0L153.9 65.0ZM159.7 67.1L163.0 67.1L161.3 64.3ZM167.3 62.2L170.3 62.2L168.8 64.8ZM174.9 66.9L177.6 66.9L176.2 64.5ZM182.4 62.4L185.0 62.4L183.7 64.6ZM190.0 66.7L192.3 66.7L191.2 64.7ZM197.6 62.6L199.6 62.6L198.6 64.4ZM205.2 66.5L206.9 66.5L206.1 64.9ZM212.7 62.8L214.3 62.8L213.5 64.2ZM220.3 66.3L221.6 66.3L220.9 65.1ZM227.9 63.0L228.9 63.0L228.4 64.0ZM235.4 66.1L236.3 66.1L235.8 65.3ZM243.0 63.2L243.6 63.2L243.3 63.8ZM250.6 65.9L250.9 65.9L250.8 65.5ZM-6.8 72.7L1.7 72.7L-2.5 80.1ZM0.8 82.2L9.0 82.2L4.9 75.0ZM8.3 72.9L16.4 72.9L12.4 79.9ZM15.9 82.0L23.7 82.0L19.8 75.2ZM23.5 73.1L31.0 73.1L27.2 79.7ZM31.1 81.8L38.3 81.8L34.7 75.4ZM38.6 73.3L45.7 73.3L42.2 79.5ZM46.2 81.6L53.0 81.6L49.6 75.6ZM53.8 73.5L60.3 73.5L57.1 79.3ZM61.3 81.4L67.7 81.4L64.5 75.8ZM68.9 73.7L75.0 73.7L72.0 79.1ZM76.5 81.2L82.3 81.2L79.4 76.0ZM84.0 73.9L89.7 73.9L86.9 78.9ZM91.6 81.0L97.0 81.0L94.3 76.2ZM99.2 74.1L104.3 74.1L101.8 78.7ZM106.8 80.8L111.6 80.8L109.2 76.4ZM114.3 74.3L119.0 74.3L116.7 78.5ZM121.9 80.5L126.3 80.5L124.1 76.7ZM129.5 74.6L133.6 74.6L131.6 78.2ZM137.0 80.3L141.0 80.3L139.0 76.9ZM144.6 74.8L148.3 74.8L146.4 78.0ZM152.2 80.1L155.6 80.1L153.9 77.1ZM159.7 75.0L163.0 75.0L161.3 77.8ZM167.3 79.9L170.3 79.9L168.8 77.3ZM174.9 75.2L177.6 75.2L176.2 77.6ZM182.4 79.7L185.0 79.7L183.7 77.5ZM190.0 75.4L192.3 75.4L191.2 77.4ZM197.6 79.5L199.6 79.5L198.6 77.7ZM205.2 75.6L206.9 75.6L206.1 77.2ZM212.7 79.3L214.3 79.3L213.5 77.9ZM220.3 75.8L221.6 75.8L220.9 77.0ZM227.9 79.1L228.9 79.1L228.4 78.1ZM235.4 76.0L236.3 76.0L235.8 76.8ZM243.0 78.9L243.6 78.9L243.3 78.3ZM250.6 76.2L250.9 76.2L250.8 76.6ZM-6.8 95.2L1.7 95.2L-2.5 87.8ZM0.8 85.7L9.0 85.7L4.9 92.9ZM8.3 95.0L16.4 95.0L12.4 88.0ZM15.9 85.9L23.7 85.9L19.8 92.7ZM23.5 94.8L31.0 94.8L27.2 88.2ZM31.1 86.1L38.3 86.1L34.7 92.5ZM38.6 94.6L45.7 94.6L42.2 88.4ZM46.2 86.3L53.0 86.3L49.6 92.3ZM53.8 94.4L60.3 94.4L57.1 88.6ZM61.3 86.5L67.7 86.5L64.5 92.1ZM68.9 94.2L75.0 94.2L72.0 88.8ZM76.5 86.7L82.3 86.7L79.4 91.9ZM84.0 94.0L89.7 94.0L86.8 89.0ZM91.6 86.9L97.0 86.9L94.3 91.7ZM99.2 93.8L104.3 93.8L101.8 89.2ZM106.8 87.1L111.6 87.1L109.2 91.5ZM114.3 93.6L119.0 93.6L116.7 89.4ZM121.9 87.4L126.3 87.4L124.1 91.2ZM129.5 93.3L133.6 93.3L131.6 89.7ZM137.0 87.6L141.0 87.6L139.0 91.0ZM144.6 93.1L148.3 93.1L146.4 89.9ZM152.2 87.8L155.6 87.8L153.9 90.8ZM159.7 92.9L163.0 92.9L161.3 90.1ZM167.3 88.0L170.3 88.0L168.8 90.6ZM174.9 92.7L177.6 92.7L176.2 90.3ZM182.4 88.2L185.0 88.2L183.7 90.4ZM190.0 92.5L192.3 92.5L191.2 90.5ZM197.6 88.4L199.6 88.4L198.6 90.2ZM205.2 92.3L206.9 92.3L206.1 90.7ZM212.7 88.6L214.3 88.6L213.5 90.0ZM220.3 92.1L221.6 92.1L220.9 90.9ZM227.9 88.8L228.9 88.8L228.4 89.8ZM235.4 91.9L236.3 91.9L235.8 91.1ZM243.0 89.0L243.6 89.0L243.3 89.6ZM250.6 91.7L250.9 91.7L250.8 91.3ZM-6.8 98.5L1.7 98.5L-2.5 105.9ZM0.8 108.0L9.0 108.0L4.9 100.8ZM8.3 98.7L16.4 98.7L12.4 105.7ZM15.9 107.8L23.7 107.8L19.8 101.0ZM23.5 98.9L31.0 98.9L27.2 105.5ZM31.1 107.6L38.3 107.6L34.7 101.2ZM38.6 99.1L45.7 99.1L42.2 105.3ZM46.2 107.4L53.0 107.4L49.6 101.4ZM53.8 99.3L60.3 99.3L57.1 105.1ZM61.3 107.2L67.7 107.2L64.5 101.6ZM68.9 99.5L75.0 99.5L72.0 104.9ZM76.5 107.0L82.3 107.0L79.4 101.8ZM84.0 99.7L89.7 99.7L86.9 104.7ZM91.6 106.8L97.0 106.8L94.3 102.0ZM99.2 99.9L104.3 99.9L101.8 104.5ZM106.8 106.6L111.6 106.6L109.2 102.2ZM114.3 100.1L119.0 100.1L116.7 104.3ZM121.9 106.3L126.3 106.3L124.1 102.5ZM129.5 100.4L133.6 100.4L131.6 104.0ZM137.0 106.1L141.0 106.1L139.0 102.7ZM144.6 100.6L148.3 100.6L146.4 103.8ZM152.2 105.9L155.6 105.9L153.9 102.9ZM159.7 100.8L163.0 100.8L161.3 103.6ZM167.3 105.7L170.3 105.7L168.8 103.1ZM174.9 101.0L177.6 101.0L176.2 103.4ZM182.4 105.5L185.0 105.5L183.7 103.3ZM190.0 101.2L192.3 101.2L191.2 103.2ZM197.6 105.3L199.6 105.3L198.6 103.5ZM205.2 101.4L206.9 101.4L206.1 103.0ZM212.7 105.1L214.3 105.1L213.5 103.7ZM220.3 101.6L221.6 101.6L220.9 102.8ZM227.9 104.9L228.9 104.9L228.4 103.9ZM235.4 101.8L236.3 101.8L235.8 102.6ZM243.0 104.7L243.6 104.7L243.3 104.1ZM250.6 102.0L250.9 102.0L250.8 102.4ZM-6.8 121.0L1.7 121.0L-2.5 113.6ZM0.8 111.5L9.0 111.5L4.9 118.7ZM8.3 120.8L16.4 120.8L12.4 113.8ZM15.9 111.7L23.7 111.7L19.8 118.5ZM23.5 120.6L31.0 120.6L27.2 114.0ZM31.1 111.9L38.3 111.9L34.7 118.3ZM38.6 120.4L45.7 120.4L42.2 114.2ZM46.2 112.1L53.0 112.1L49.6 118.1ZM53.8 120.2L60.3 120.2L57.1 114.4ZM61.3 112.3L67.7 112.3L64.5 117.9ZM68.9 120.0L75.0 120.0L72.0 114.6ZM76.5 112.5L82.3 112.5L79.4 117.7ZM84.0 119.8L89.7 119.8L86.8 114.8ZM91.6 112.7L97.0 112.7L94.3 117.5ZM99.2 119.6L104.3 119.6L101.8 115.0ZM106.8 112.9L111.6 112.9L109.2 117.3ZM114.3 119.4L119.0 119.4L116.7 115.2ZM121.9 113.2L126.3 113.2L124.1 117.0ZM129.5 119.1L133.6 119.1L131.6 115.5ZM137.0 113.4L141.0 113.4L139.0 116.8ZM144.6 118.9L148.3 118.9L146.4 115.7ZM152.2 113.6L155.6 113.6L153.9 116.6ZM159.7 118.7L163.0 118.7L161.3 115.9ZM167.3 113.8L170.3 113.8L168.8 116.4ZM174.9 118.5L177.6 118.5L176.2 116.1ZM182.4 114.0L185.0 114.0L183.7 116.2ZM190.0 118.3L192.3 118.3L191.2 116.3ZM197.6 114.2L199.6 114.2L198.6 116.0ZM205.2 118.1L206.9 118.1L206.1 116.5ZM212.7 114.4L214.3 114.4L213.5 115.8ZM220.3 117.9L221.6 117.9L220.9 116.7ZM227.9 114.6L228.9 114.6L228.4 115.6ZM235.4 117.7L236.3 117.7L235.8 116.9ZM243.0 114.8L243.6 114.8L243.3 115.4ZM250.6 117.5L250.9 117.5L250.8 117.1ZM-6.8 124.3L1.7 124.3L-2.5 131.7ZM0.8 133.8L9.0 133.8L4.9 126.6ZM8.3 124.5L16.4 124.5L12.4 131.5ZM15.9 133.6L23.7 133.6L19.8 126.8ZM23.5 124.7L31.0 124.7L27.2 131.3ZM31.1 133.4L38.3 133.4L34.7 127.0ZM38.6 124.9L45.7 124.9L42.2 131.1ZM46.2 133.2L53.0 133.2L49.6 127.2ZM53.8 125.1L60.3 125.1L57.1 130.9ZM61.3 133.0L67.7 133.0L64.5 127.4ZM68.9 125.3L75.0 125.3L72.0 130.7ZM76.5 132.8L82.3 132.8L79.4 127.6ZM84.0 125.5L89.7 125.5L86.9 130.5ZM91.6 132.6L97.0 132.6L94.3 127.8ZM99.2 125.7L104.3 125.7L101.8 130.3ZM106.8 132.4L111.6 132.4L109.2 128.0ZM114.3 125.9L119.0 125.9L116.7 130.1ZM121.9 132.1L126.3 132.1L124.1 128.3ZM129.5 126.2L133.6 126.2L131.6 129.8ZM137.0 131.9L141.0 131.9L139.0 128.5ZM144.6 126.4L148.3 126.4L146.4 129.6ZM152.2 131.7L155.6 131.7L153.9 128.7ZM159.7 126.6L163.0 126.6L161.3 129.4ZM167.3 131.5L170.3 131.5L168.8 128.9ZM174.9 126.8L177.6 126.8L176.2 129.2ZM182.4 131.3L185.0 131.3L183.7 129.1ZM190.0 127.0L192.3 127.0L191.2 129.0ZM197.6 131.1L199.6 131.1L198.6 129.3ZM205.2 127.2L206.9 127.2L206.1 128.8ZM212.7 130.9L214.3 130.9L213.5 129.5ZM220.3 127.4L221.6 127.4L220.9 128.6ZM227.9 130.7L228.9 130.7L228.4 129.7ZM235.4 127.6L236.3 127.6L235.8 128.4ZM243.0 130.5L243.6 130.5L243.3 129.9ZM250.6 127.8L250.9 127.8L250.8 128.2ZM-6.8 146.8L1.7 146.8L-2.5 139.4ZM0.8 137.3L9.0 137.3L4.9 144.5ZM8.3 146.6L16.4 146.6L12.4 139.6ZM15.9 137.5L23.7 137.5L19.8 144.3ZM23.5 146.4L31.0 146.4L27.2 139.8ZM31.1 137.7L38.3 137.7L34.7 144.1ZM38.6 146.2L45.7 146.2L42.2 140.0ZM46.2 137.9L53.0 137.9L49.6 143.9ZM53.8 146.0L60.3 146.0L57.1 140.2ZM61.3 138.1L67.7 138.1L64.5 143.7ZM68.9 145.8L75.0 145.8L72.0 140.4ZM76.5 138.3L82.3 138.3L79.4 143.5ZM84.0 145.6L89.7 145.6L86.8 140.6ZM91.6 138.5L97.0 138.5L94.3 143.3ZM99.2 145.4L104.3 145.4L101.8 140.8ZM106.8 138.7L111.6 138.7L109.2 143.1ZM114.3 145.2L119.0 145.2L116.7 141.0ZM121.9 139.0L126.3 139.0L124.1 142.8ZM129.5 144.9L133.6 144.9L131.6 141.3ZM137.0 139.2L141.0 139.2L139.0 142.6ZM144.6 144.7L148.3 144.7L146.4 141.5ZM152.2 139.4L155.6 139.4L153.9 142.4ZM159.7 144.5L163.0 144.5L161.3 141.7ZM167.3 139.6L170.3 139.6L168.8 142.2ZM174.9 144.3L177.6 144.3L176.2 141.9ZM182.4 139.8L185.0 139.8L183.7 142.0ZM190.0 144.1L192.3 144.1L191.2 142.1ZM197.6 140.0L199.6 140.0L198.6 141.8ZM205.2 143.9L206.9 143.9L206.1 142.3ZM212.7 140.2L214.3 140.2L213.5 141.6ZM220.3 143.7L221.6 143.7L220.9 142.5ZM227.9 140.4L228.9 140.4L228.4 141.4ZM235.4 143.5L236.3 143.5L235.8 142.7ZM243.0 140.6L243.6 140.6L243.3 141.2ZM250.6 143.3L250.9 143.3L250.8 142.9ZM-6.8 150.1L1.7 150.1L-2.5 157.5ZM0.8 159.6L9.0 159.6L4.9 152.4ZM8.3 150.3L16.4 150.3L12.4 157.3ZM15.9 159.4L23.7 159.4L19.8 152.6ZM23.5 150.5L31.0 150.5L27.2 157.1ZM31.1 159.2L38.3 159.2L34.7 152.8ZM38.6 150.7L45.7 150.7L42.2 156.9ZM46.2 159.0L53.0 159.0L49.6 153.0ZM53.8 150.9L60.3 150.9L57.1 156.7ZM61.3 158.8L67.7 158.8L64.5 153.2ZM68.9 151.1L75.0 151.1L72.0 156.5ZM76.5 158.6L82.3 158.6L79.4 153.4ZM84.0 151.3L89.7 151.3L86.9 156.3ZM91.6 158.4L97.0 158.4L94.3 153.6ZM99.2 151.5L104.3 151.5L101.8 156.1ZM106.8 158.2L111.6 158.2L109.2 153.8ZM114.3 151.7L119.0 151.7L116.7 155.9ZM121.9 157.9L126.3 157.9L124.1 154.1ZM129.5 152.0L133.6 152.0L131.6 155.6ZM137.0 157.7L141.0 157.7L139.0 154.3ZM144.6 152.2L148.3 152.2L146.4 155.4ZM152.2 157.5L155.6 157.5L153.9 154.5ZM159.7 152.4L163.0 152.4L161.3 155.2ZM167.3 157.3L170.3 157.3L168.8 154.7ZM174.9 152.6L177.6 152.6L176.2 155.0ZM182.4 157.1L185.0 157.1L183.7 154.9ZM190.0 152.8L192.3 152.8L191.2 154.8ZM197.6 156.9L199.6 156.9L198.6 155.1ZM205.2 153.0L206.9 153.0L206.1 154.6ZM212.7 156.7L214.3 156.7L213.5 155.3ZM220.3 153.2L221.6 153.2L220.9 154.4ZM227.9 156.5L228.9 156.5L228.4 155.5ZM235.4 153.4L236.3 153.4L235.8 154.2ZM243.0 156.3L243.6 156.3L243.3 155.7ZM250.6 153.6L250.9 153.6L250.8 154.0ZM-6.8 172.6L1.7 172.6L-2.5 165.2ZM0.8 163.1L9.0 163.1L4.9 170.3ZM8.3 172.4L16.4 172.4L12.4 165.4ZM15.9 163.3L23.7 163.3L19.8 170.1ZM23.5 172.2L31.0 172.2L27.2 165.6ZM31.1 163.5L38.3 163.5L34.7 169.9ZM38.6 172.0L45.7 172.0L42.2 165.8ZM46.2 163.7L53.0 163.7L49.6 169.7ZM53.8 171.8L60.3 171.8L57.1 166.0ZM61.3 163.9L67.7 163.9L64.5 169.5ZM68.9 171.6L75.0 171.6L72.0 166.2ZM76.5 164.1L82.3 164.1L79.4 169.3ZM84.0 171.4L89.7 171.4L86.8 166.4ZM91.6 164.3L97.0 164.3L94.3 169.1ZM99.2 171.2L104.3 171.2L101.8 166.6ZM106.8 164.5L111.6 164.5L109.2 168.9ZM114.3 171.0L119.0 171.0L116.7 166.8ZM121.9 164.8L126.3 164.8L124.1 168.6ZM129.5 170.7L133.6 170.7L131.6 167.1ZM137.0 165.0L141.0 165.0L139.0 168.4ZM144.6 170.5L148.3 170.5L146.4 167.3ZM152.2 165.2L155.6 165.2L153.9 168.2ZM159.7 170.3L163.0 170.3L161.3 167.5ZM167.3 165.4L170.3 165.4L168.8 168.0ZM174.9 170.1L177.6 170.1L176.2 167.7ZM182.4 165.6L185.0 165.6L183.7 167.8ZM190.0 169.9L192.3 169.9L191.2 167.9ZM197.6 165.8L199.6 165.8L198.6 167.6ZM205.2 169.7L206.9 169.7L206.1 168.1ZM212.7 166.0L214.3 166.0L213.5 167.4ZM220.3 169.5L221.6 169.5L220.9 168.3ZM227.9 166.2L228.9 166.2L228.4 167.2ZM235.4 169.3L236.3 169.3L235.8 168.5ZM243.0 166.4L243.6 166.4L243.3 167.0ZM250.6 169.1L250.9 169.1L250.8 168.7ZM-6.8 175.9L1.7 175.9L-2.5 183.3ZM0.8 185.4L9.0 185.4L4.9 178.2ZM8.3 176.1L16.4 176.1L12.4 183.1ZM15.9 185.2L23.7 185.2L19.8 178.4ZM23.5 176.3L31.0 176.3L27.2 182.9ZM31.1 185.0L38.3 185.0L34.7 178.6ZM38.6 176.5L45.7 176.5L42.2 182.7ZM46.2 184.8L53.0 184.8L49.6 178.8ZM53.8 176.7L60.3 176.7L57.1 182.5ZM61.3 184.6L67.7 184.6L64.5 179.0ZM68.9 176.9L75.0 176.9L72.0 182.3ZM76.5 184.4L82.3 184.4L79.4 179.2ZM84.0 177.1L89.7 177.1L86.9 182.1ZM91.6 184.2L97.0 184.2L94.3 179.4ZM99.2 177.3L104.3 177.3L101.8 181.9ZM106.8 184.0L111.6 184.0L109.2 179.6ZM114.3 177.5L119.0 177.5L116.7 181.7ZM121.9 183.7L126.3 183.7L124.1 179.9ZM129.5 177.8L133.6 177.8L131.6 181.4ZM137.0 183.5L141.0 183.5L139.0 180.1ZM144.6 178.0L148.3 178.0L146.4 181.2ZM152.2 183.3L155.6 183.3L153.9 180.3ZM159.7 178.2L163.0 178.2L161.3 181.0ZM167.3 183.1L170.3 183.1L168.8 180.5ZM174.9 178.4L177.6 178.4L176.2 180.8ZM182.4 182.9L185.0 182.9L183.7 180.7ZM190.0 178.6L192.3 178.6L191.2 180.6ZM197.6 182.7L199.6 182.7L198.6 180.9ZM205.2 178.8L206.9 178.8L206.1 180.4ZM212.7 182.5L214.3 182.5L213.5 181.1ZM220.3 179.0L221.6 179.0L220.9 180.2ZM227.9 182.3L228.9 182.3L228.4 181.3ZM235.4 179.2L236.3 179.2L235.8 180.0ZM243.0 182.1L243.6 182.1L243.3 181.5ZM250.6 179.4L250.9 179.4L250.8 179.8ZM-6.8 198.4L1.7 198.4L-2.5 191.0ZM0.8 188.9L9.0 188.9L4.9 196.1ZM8.3 198.2L16.4 198.2L12.4 191.2ZM15.9 189.1L23.7 189.1L19.8 195.9ZM23.5 198.0L31.0 198.0L27.2 191.4ZM31.1 189.3L38.3 189.3L34.7 195.7ZM38.6 197.8L45.7 197.8L42.2 191.6ZM46.2 189.5L53.0 189.5L49.6 195.5ZM53.8 197.6L60.3 197.6L57.1 191.8ZM61.3 189.7L67.7 189.7L64.5 195.3ZM68.9 197.4L75.0 197.4L72.0 192.0ZM76.5 189.9L82.3 189.9L79.4 195.1ZM84.0 197.2L89.7 197.2L86.8 192.2ZM91.6 190.1L97.0 190.1L94.3 194.9ZM99.2 197.0L104.3 197.0L101.8 192.4ZM106.8 190.3L111.6 190.3L109.2 194.7ZM114.3 196.8L119.0 196.8L116.7 192.6ZM121.9 190.6L126.3 190.6L124.1 194.4ZM129.5 196.5L133.6 196.5L131.6 192.9ZM137.0 190.8L141.0 190.8L139.0 194.2ZM144.6 196.3L148.3 196.3L146.4 193.1ZM152.2 191.0L155.6 191.0L153.9 194.0ZM159.7 196.1L163.0 196.1L161.3 193.3ZM167.3 191.2L170.3 191.2L168.8 193.8ZM174.9 195.9L177.6 195.9L176.2 193.5ZM182.4 191.4L185.0 191.4L183.7 193.6ZM190.0 195.7L192.3 195.7L191.2 193.7ZM197.6 191.6L199.6 191.6L198.6 193.4ZM205.2 195.5L206.9 195.5L206.1 193.9ZM212.7 191.8L214.3 191.8L213.5 193.2ZM220.3 195.3L221.6 195.3L220.9 194.1ZM227.9 192.0L228.9 192.0L228.4 193.0ZM235.4 195.1L236.3 195.1L235.8 194.3ZM243.0 192.2L243.6 192.2L243.3 192.8ZM250.6 194.9L250.9 194.9L250.8 194.5ZM-6.8 201.7L1.7 201.7L-2.5 209.1ZM0.8 211.2L9.0 211.2L4.9 204.0ZM8.3 201.9L16.4 201.9L12.4 208.9ZM15.9 211.0L23.7 211.0L19.8 204.2ZM23.5 202.1L31.0 202.1L27.2 208.7ZM31.1 210.8L38.3 210.8L34.7 204.4ZM38.6 202.3L45.7 202.3L42.2 208.5ZM46.2 210.6L53.0 210.6L49.6 204.6ZM53.8 202.5L60.3 202.5L57.1 208.3ZM61.3 210.4L67.7 210.4L64.5 204.8ZM68.9 202.7L75.0 202.7L72.0 208.1ZM76.5 210.2L82.3 210.2L79.4 205.0ZM84.0 202.9L89.7 202.9L86.9 207.9ZM91.6 210.0L97.0 210.0L94.3 205.2ZM99.2 203.1L104.3 203.1L101.8 207.7ZM106.8 209.8L111.6 209.8L109.2 205.4ZM114.3 203.3L119.0 203.3L116.7 207.5ZM121.9 209.5L126.3 209.5L124.1 205.7ZM129.5 203.6L133.6 203.6L131.6 207.2ZM137.0 209.3L141.0 209.3L139.0 205.9ZM144.6 203.8L148.3 203.8L146.4 207.0ZM152.2 209.1L155.6 209.1L153.9 206.1ZM159.7 204.0L163.0 204.0L161.3 206.8ZM167.3 208.9L170.3 208.9L168.8 206.3ZM174.9 204.2L177.6 204.2L176.2 206.6ZM182.4 208.7L185.0 208.7L183.7 206.5ZM190.0 204.4L192.3 204.4L191.2 206.4ZM197.6 208.5L199.6 208.5L198.6 206.7ZM205.2 204.6L206.9 204.6L206.1 206.2ZM212.7 208.3L214.3 208.3L213.5 206.9ZM220.3 204.8L221.6 204.8L220.9 206.0ZM227.9 208.1L228.9 208.1L228.4 207.1ZM235.4 205.0L236.3 205.0L235.8 205.8ZM243.0 207.9L243.6 207.9L243.3 207.3ZM250.6 205.2L250.9 205.2L250.8 205.6ZM-6.8 224.2L1.7 224.2L-2.5 216.8ZM0.8 214.7L9.0 214.7L4.9 221.9ZM8.3 224.0L16.4 224.0L12.4 217.0ZM15.9 214.9L23.7 214.9L19.8 221.7ZM23.5 223.8L31.0 223.8L27.2 217.2ZM31.1 215.1L38.3 215.1L34.7 221.5ZM38.6 223.6L45.7 223.6L42.2 217.4ZM46.2 215.3L53.0 215.3L49.6 221.3ZM53.8 223.4L60.3 223.4L57.1 217.6ZM61.3 215.5L67.7 215.5L64.5 221.1ZM68.9 223.2L75.0 223.2L72.0 217.8ZM76.5 215.7L82.3 215.7L79.4 220.9ZM84.0 223.0L89.7 223.0L86.8 218.0ZM91.6 215.9L97.0 215.9L94.3 220.7ZM99.2 222.8L104.3 222.8L101.8 218.2ZM106.8 216.1L111.6 216.1L109.2 220.5ZM114.3 222.6L119.0 222.6L116.7 218.4ZM121.9 216.4L126.3 216.4L124.1 220.2ZM129.5 222.3L133.6 222.3L131.6 218.7ZM137.0 216.6L141.0 216.6L139.0 220.0ZM144.6 222.1L148.3 222.1L146.4 218.9ZM152.2 216.8L155.6 216.8L153.9 219.8ZM159.7 221.9L163.0 221.9L161.3 219.1ZM167.3 217.0L170.3 217.0L168.8 219.6ZM174.9 221.7L177.6 221.7L176.2 219.3ZM182.4 217.2L185.0 217.2L183.7 219.4ZM190.0 221.5L192.3 221.5L191.2 219.5ZM197.6 217.4L199.6 217.4L198.6 219.2ZM205.2 221.3L206.9 221.3L206.1 219.7ZM212.7 217.6L214.3 217.6L213.5 219.0ZM220.3 221.1L221.6 221.1L220.9 219.9ZM227.9 217.8L228.9 217.8L228.4 218.8ZM235.4 220.9L236.3 220.9L235.8 220.1ZM243.0 218.0L243.6 218.0L243.3 218.6ZM250.6 220.7L250.9 220.7L250.8 220.3ZM-6.8 227.5L1.7 227.5L-2.5 234.9ZM0.8 237.0L9.0 237.0L4.9 229.8ZM8.3 227.7L16.4 227.7L12.4 234.7ZM15.9 236.8L23.7 236.8L19.8 230.0ZM23.5 227.9L31.0 227.9L27.2 234.5ZM31.1 236.6L38.3 236.6L34.7 230.2ZM38.6 228.1L45.7 228.1L42.2 234.3ZM46.2 236.4L53.0 236.4L49.6 230.4ZM53.8 228.3L60.3 228.3L57.1 234.1ZM61.3 236.2L67.7 236.2L64.5 230.6ZM68.9 228.5L75.0 228.5L72.0 233.9ZM76.5 236.0L82.3 236.0L79.4 230.8ZM84.0 228.7L89.7 228.7L86.9 233.7ZM91.6 235.8L97.0 235.8L94.3 231.0ZM99.2 228.9L104.3 228.9L101.8 233.5ZM106.8 235.6L111.6 235.6L109.2 231.2ZM114.3 229.1L119.0 229.1L116.7 233.3ZM121.9 235.3L126.3 235.3L124.1 231.5ZM129.5 229.4L133.6 229.4L131.6 233.0ZM137.0 235.1L141.0 235.1L139.0 231.7ZM144.6 229.6L148.3 229.6L146.4 232.8ZM152.2 234.9L155.6 234.9L153.9 231.9ZM159.7 229.8L163.0 229.8L161.3 232.6ZM167.3 234.7L170.3 234.7L168.8 232.1ZM174.9 230.0L177.6 230.0L176.2 232.4ZM182.4 234.5L185.0 234.5L183.7 232.3ZM190.0 230.2L192.3 230.2L191.2 232.2ZM197.6 234.3L199.6 234.3L198.6 232.5ZM205.2 230.4L206.9 230.4L206.1 232.0ZM212.7 234.1L214.3 234.1L213.5 232.7ZM220.3 230.6L221.6 230.6L220.9 231.8ZM227.9 233.9L228.9 233.9L228.4 232.9ZM235.4 230.8L236.3 230.8L235.8 231.6ZM243.0 233.7L243.6 233.7L243.3 233.1ZM250.6 231.0L250.9 231.0L250.8 231.4Z" fill="#45b34a"/></g>
<text transform="translate(505.44,174.00) scale(1.0310,1)" x="0" y="0" font-family="Liberation Sans" font-weight="bold" font-size="160.17" fill="#fff" stroke="#fff" stroke-width="11.0" stroke-linejoin="round">R</text>
<text transform="translate(635.05,174.00) scale(1.0582,1)" x="0" y="0" font-family="Liberation Sans" font-weight="bold" font-size="160.17" fill="#fff" stroke="#fff" stroke-width="11.0" stroke-linejoin="round">O</text>
<text transform="translate(776.54,174.00) scale(1.0991,1)" x="0" y="0" font-family="Liberation Sans" font-weight="bold" font-size="160.17" fill="#fff" stroke="#fff" stroke-width="11.0" stroke-linejoin="round">U</text>
<text transform="translate(918.38,174.00) scale(1.0356,1)" x="0" y="0" font-family="Liberation Sans" font-weight="bold" font-size="160.17" fill="#fff" stroke="#fff" stroke-width="11.0" stroke-linejoin="round">T</text>
<text transform="translate(1034.32,174.00) scale(1.0138,1)" x="0" y="0" font-family="Liberation Sans" font-weight="bold" font-size="160.17" fill="#fff" stroke="#fff" stroke-width="11.0" stroke-linejoin="round">E</text>
<text transform="translate(1205.40,174.00) scale(1.0153,1)" x="0" y="0" font-family="Liberation Sans" font-weight="bold" font-size="160.17" fill="#fff" stroke="#fff" stroke-width="11.0" stroke-linejoin="round">R</text>
<text transform="translate(1332.44,174.00) scale(1.0775,1)" x="0" y="0" font-family="Liberation Sans" font-weight="bold" font-size="160.17" fill="#fff" stroke="#fff" stroke-width="11.0" stroke-linejoin="round">D</text>
<text transform="translate(1466.64,174.00) scale(1.0991,1)" x="0" y="0" font-family="Liberation Sans" font-weight="bold" font-size="160.17" fill="#fff" stroke="#fff" stroke-width="11.0" stroke-linejoin="round">U</text>
<rect x="1692.0" y="96.0" width="406.0" height="51.0" fill="#ffffff" />
<text x="1768.0" y="136.9" font-family="Liberation Sans" font-size="39.24" font-weight="bold" font-style="italic" fill="#0e1c29" text-anchor="start" textLength="137.5" lengthAdjust="spacingAndGlyphs" stroke="#0e1c29" stroke-width="0.9" stroke-linejoin="round" >AUGUST</text>
<text x="1918.0" y="136.9" font-family="Liberation Sans" font-size="39.24" font-weight="bold" font-style="italic" fill="#3db54a" text-anchor="start" textLength="86.5" lengthAdjust="spacingAndGlyphs" stroke="#3db54a" stroke-width="0.9" stroke-linejoin="round" >2025</text>
</svg></body></html>
